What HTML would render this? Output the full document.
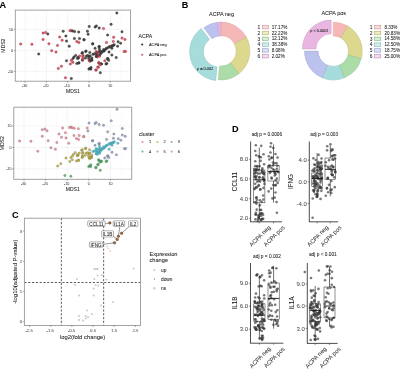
<!DOCTYPE html>
<html><head><meta charset="utf-8"><style>
html,body{margin:0;padding:0;background:#fff;overflow:hidden;}
svg{display:block;font-family:"Liberation Sans", sans-serif;filter:blur(0.3px);}
text{stroke:currentColor;stroke-width:0.05px;paint-order:stroke;}
</style></head><body>
<svg width="400" height="369" viewBox="0 0 400 369">
<rect width="400" height="369" fill="#fff"/>
<text x="-0.50" y="7.70" font-size="9.1" text-anchor="start" fill="#000" color="#000" font-weight="bold">A</text>
<text x="181.70" y="8.10" font-size="9.1" text-anchor="start" fill="#000" color="#000" font-weight="bold">B</text>
<text x="12.00" y="217.50" font-size="9.1" text-anchor="start" fill="#000" color="#000" font-weight="bold">C</text>
<text x="232.00" y="131.50" font-size="9.1" text-anchor="start" fill="#000" color="#000" font-weight="bold">D</text>
<rect x="15.3" y="10.1" width="115.3" height="71.10000000000001" fill="#fff"/>
<line x1="35.75" y1="10.10" x2="35.75" y2="81.20" stroke="#f5f5f5" stroke-width="0.3"/>
<line x1="57.05" y1="10.10" x2="57.05" y2="81.20" stroke="#f5f5f5" stroke-width="0.3"/>
<line x1="78.35" y1="10.10" x2="78.35" y2="81.20" stroke="#f5f5f5" stroke-width="0.3"/>
<line x1="99.65" y1="10.10" x2="99.65" y2="81.20" stroke="#f5f5f5" stroke-width="0.3"/>
<line x1="120.95" y1="10.10" x2="120.95" y2="81.20" stroke="#f5f5f5" stroke-width="0.3"/>
<line x1="15.30" y1="18.90" x2="130.60" y2="18.90" stroke="#f5f5f5" stroke-width="0.3"/>
<line x1="15.30" y1="39.90" x2="130.60" y2="39.90" stroke="#f5f5f5" stroke-width="0.3"/>
<line x1="15.30" y1="60.90" x2="130.60" y2="60.90" stroke="#f5f5f5" stroke-width="0.3"/>
<line x1="25.10" y1="10.10" x2="25.10" y2="81.20" stroke="#ebebeb" stroke-width="0.5"/>
<line x1="46.40" y1="10.10" x2="46.40" y2="81.20" stroke="#ebebeb" stroke-width="0.5"/>
<line x1="67.70" y1="10.10" x2="67.70" y2="81.20" stroke="#ebebeb" stroke-width="0.5"/>
<line x1="89.00" y1="10.10" x2="89.00" y2="81.20" stroke="#ebebeb" stroke-width="0.5"/>
<line x1="110.30" y1="10.10" x2="110.30" y2="81.20" stroke="#ebebeb" stroke-width="0.5"/>
<line x1="15.30" y1="29.40" x2="130.60" y2="29.40" stroke="#ebebeb" stroke-width="0.5"/>
<line x1="15.30" y1="50.40" x2="130.60" y2="50.40" stroke="#ebebeb" stroke-width="0.5"/>
<line x1="15.30" y1="71.40" x2="130.60" y2="71.40" stroke="#ebebeb" stroke-width="0.5"/>
<circle cx="20.70" cy="44.10" r="1.25" fill="#dc4858" fill-opacity="0.88" stroke="#7a2a35" stroke-width="0.38" stroke-opacity="0.75"/>
<circle cx="31.90" cy="44.30" r="1.25" fill="#dc4858" fill-opacity="0.88" stroke="#7a2a35" stroke-width="0.38" stroke-opacity="0.75"/>
<circle cx="43.10" cy="33.10" r="1.25" fill="#dc4858" fill-opacity="0.88" stroke="#7a2a35" stroke-width="0.38" stroke-opacity="0.75"/>
<circle cx="45.70" cy="32.40" r="1.25" fill="#dc4858" fill-opacity="0.88" stroke="#7a2a35" stroke-width="0.38" stroke-opacity="0.75"/>
<circle cx="47.80" cy="34.00" r="1.25" fill="#3c3c3c" fill-opacity="0.88" stroke="#262626" stroke-width="0.38" stroke-opacity="0.75"/>
<circle cx="43.10" cy="39.40" r="1.25" fill="#dc4858" fill-opacity="0.88" stroke="#7a2a35" stroke-width="0.38" stroke-opacity="0.75"/>
<circle cx="48.90" cy="43.80" r="1.25" fill="#dc4858" fill-opacity="0.88" stroke="#7a2a35" stroke-width="0.38" stroke-opacity="0.75"/>
<circle cx="63.20" cy="31.30" r="1.25" fill="#3c3c3c" fill-opacity="0.88" stroke="#262626" stroke-width="0.38" stroke-opacity="0.75"/>
<circle cx="70.00" cy="30.80" r="1.25" fill="#dc4858" fill-opacity="0.88" stroke="#7a2a35" stroke-width="0.38" stroke-opacity="0.75"/>
<circle cx="71.30" cy="30.40" r="1.25" fill="#dc4858" fill-opacity="0.88" stroke="#7a2a35" stroke-width="0.38" stroke-opacity="0.75"/>
<circle cx="72.60" cy="31.00" r="1.25" fill="#3c3c3c" fill-opacity="0.88" stroke="#262626" stroke-width="0.38" stroke-opacity="0.75"/>
<circle cx="74.60" cy="31.60" r="1.25" fill="#3c3c3c" fill-opacity="0.88" stroke="#262626" stroke-width="0.38" stroke-opacity="0.75"/>
<circle cx="78.70" cy="32.10" r="1.25" fill="#3c3c3c" fill-opacity="0.88" stroke="#262626" stroke-width="0.38" stroke-opacity="0.75"/>
<circle cx="89.20" cy="26.40" r="1.25" fill="#3c3c3c" fill-opacity="0.88" stroke="#262626" stroke-width="0.38" stroke-opacity="0.75"/>
<circle cx="87.40" cy="31.30" r="1.25" fill="#3c3c3c" fill-opacity="0.88" stroke="#262626" stroke-width="0.38" stroke-opacity="0.75"/>
<circle cx="88.10" cy="34.20" r="1.25" fill="#3c3c3c" fill-opacity="0.88" stroke="#262626" stroke-width="0.38" stroke-opacity="0.75"/>
<circle cx="65.90" cy="36.00" r="1.25" fill="#3c3c3c" fill-opacity="0.88" stroke="#262626" stroke-width="0.38" stroke-opacity="0.75"/>
<circle cx="59.60" cy="37.10" r="1.25" fill="#dc4858" fill-opacity="0.88" stroke="#7a2a35" stroke-width="0.38" stroke-opacity="0.75"/>
<circle cx="62.10" cy="40.30" r="1.25" fill="#dc4858" fill-opacity="0.88" stroke="#7a2a35" stroke-width="0.38" stroke-opacity="0.75"/>
<circle cx="66.50" cy="41.10" r="1.25" fill="#3c3c3c" fill-opacity="0.88" stroke="#262626" stroke-width="0.38" stroke-opacity="0.75"/>
<circle cx="74.40" cy="38.60" r="1.25" fill="#3c3c3c" fill-opacity="0.88" stroke="#262626" stroke-width="0.38" stroke-opacity="0.75"/>
<circle cx="79.50" cy="38.60" r="1.25" fill="#3c3c3c" fill-opacity="0.88" stroke="#262626" stroke-width="0.38" stroke-opacity="0.75"/>
<circle cx="76.80" cy="41.60" r="1.25" fill="#dc4858" fill-opacity="0.88" stroke="#7a2a35" stroke-width="0.38" stroke-opacity="0.75"/>
<circle cx="78.90" cy="42.50" r="1.25" fill="#dc4858" fill-opacity="0.88" stroke="#7a2a35" stroke-width="0.38" stroke-opacity="0.75"/>
<circle cx="84.10" cy="39.70" r="1.25" fill="#3c3c3c" fill-opacity="0.88" stroke="#262626" stroke-width="0.38" stroke-opacity="0.75"/>
<circle cx="69.20" cy="46.20" r="1.25" fill="#3c3c3c" fill-opacity="0.88" stroke="#262626" stroke-width="0.38" stroke-opacity="0.75"/>
<circle cx="57.50" cy="45.40" r="1.25" fill="#dc4858" fill-opacity="0.88" stroke="#7a2a35" stroke-width="0.38" stroke-opacity="0.75"/>
<circle cx="92.80" cy="43.80" r="1.25" fill="#3c3c3c" fill-opacity="0.88" stroke="#262626" stroke-width="0.38" stroke-opacity="0.75"/>
<circle cx="116.80" cy="12.90" r="1.25" fill="#3c3c3c" fill-opacity="0.88" stroke="#262626" stroke-width="0.38" stroke-opacity="0.75"/>
<circle cx="111.10" cy="24.30" r="1.25" fill="#3c3c3c" fill-opacity="0.88" stroke="#262626" stroke-width="0.38" stroke-opacity="0.75"/>
<circle cx="95.10" cy="27.00" r="1.25" fill="#3c3c3c" fill-opacity="0.88" stroke="#262626" stroke-width="0.38" stroke-opacity="0.75"/>
<circle cx="96.40" cy="25.90" r="1.25" fill="#3c3c3c" fill-opacity="0.88" stroke="#262626" stroke-width="0.38" stroke-opacity="0.75"/>
<circle cx="99.20" cy="28.00" r="1.25" fill="#3c3c3c" fill-opacity="0.88" stroke="#262626" stroke-width="0.38" stroke-opacity="0.75"/>
<circle cx="103.50" cy="28.60" r="1.25" fill="#dc4858" fill-opacity="0.88" stroke="#7a2a35" stroke-width="0.38" stroke-opacity="0.75"/>
<circle cx="122.00" cy="31.80" r="1.25" fill="#3c3c3c" fill-opacity="0.88" stroke="#262626" stroke-width="0.38" stroke-opacity="0.75"/>
<circle cx="107.60" cy="35.10" r="1.25" fill="#3c3c3c" fill-opacity="0.88" stroke="#262626" stroke-width="0.38" stroke-opacity="0.75"/>
<circle cx="113.70" cy="37.30" r="1.25" fill="#dc4858" fill-opacity="0.88" stroke="#7a2a35" stroke-width="0.38" stroke-opacity="0.75"/>
<circle cx="122.00" cy="38.10" r="1.25" fill="#dc4858" fill-opacity="0.88" stroke="#7a2a35" stroke-width="0.38" stroke-opacity="0.75"/>
<circle cx="124.90" cy="39.40" r="1.25" fill="#dc4858" fill-opacity="0.88" stroke="#7a2a35" stroke-width="0.38" stroke-opacity="0.75"/>
<circle cx="113.30" cy="41.40" r="1.25" fill="#dc4858" fill-opacity="0.88" stroke="#7a2a35" stroke-width="0.38" stroke-opacity="0.75"/>
<circle cx="106.50" cy="42.50" r="1.25" fill="#dc4858" fill-opacity="0.88" stroke="#7a2a35" stroke-width="0.38" stroke-opacity="0.75"/>
<circle cx="118.10" cy="41.80" r="1.25" fill="#3c3c3c" fill-opacity="0.88" stroke="#262626" stroke-width="0.38" stroke-opacity="0.75"/>
<circle cx="120.60" cy="43.20" r="1.25" fill="#3c3c3c" fill-opacity="0.88" stroke="#262626" stroke-width="0.38" stroke-opacity="0.75"/>
<circle cx="99.40" cy="46.50" r="1.25" fill="#3c3c3c" fill-opacity="0.88" stroke="#262626" stroke-width="0.38" stroke-opacity="0.75"/>
<circle cx="109.70" cy="46.20" r="1.25" fill="#dc4858" fill-opacity="0.88" stroke="#7a2a35" stroke-width="0.38" stroke-opacity="0.75"/>
<circle cx="111.90" cy="45.90" r="1.25" fill="#3c3c3c" fill-opacity="0.88" stroke="#262626" stroke-width="0.38" stroke-opacity="0.75"/>
<circle cx="113.30" cy="45.40" r="1.25" fill="#3c3c3c" fill-opacity="0.88" stroke="#262626" stroke-width="0.38" stroke-opacity="0.75"/>
<circle cx="117.60" cy="46.20" r="1.25" fill="#3c3c3c" fill-opacity="0.88" stroke="#262626" stroke-width="0.38" stroke-opacity="0.75"/>
<circle cx="38.70" cy="54.00" r="1.25" fill="#3c3c3c" fill-opacity="0.88" stroke="#262626" stroke-width="0.38" stroke-opacity="0.75"/>
<circle cx="51.70" cy="50.70" r="1.25" fill="#dc4858" fill-opacity="0.88" stroke="#7a2a35" stroke-width="0.38" stroke-opacity="0.75"/>
<circle cx="56.00" cy="52.10" r="1.25" fill="#dc4858" fill-opacity="0.88" stroke="#7a2a35" stroke-width="0.38" stroke-opacity="0.75"/>
<circle cx="66.50" cy="60.80" r="1.25" fill="#3c3c3c" fill-opacity="0.88" stroke="#262626" stroke-width="0.38" stroke-opacity="0.75"/>
<circle cx="70.30" cy="64.00" r="1.25" fill="#dc4858" fill-opacity="0.88" stroke="#7a2a35" stroke-width="0.38" stroke-opacity="0.75"/>
<circle cx="71.30" cy="60.30" r="1.25" fill="#dc4858" fill-opacity="0.88" stroke="#7a2a35" stroke-width="0.38" stroke-opacity="0.75"/>
<circle cx="73.00" cy="58.60" r="1.25" fill="#3c3c3c" fill-opacity="0.88" stroke="#262626" stroke-width="0.38" stroke-opacity="0.75"/>
<circle cx="74.00" cy="57.00" r="1.25" fill="#3c3c3c" fill-opacity="0.88" stroke="#262626" stroke-width="0.38" stroke-opacity="0.75"/>
<circle cx="75.70" cy="55.40" r="1.25" fill="#3c3c3c" fill-opacity="0.88" stroke="#262626" stroke-width="0.38" stroke-opacity="0.75"/>
<circle cx="76.80" cy="63.50" r="1.25" fill="#3c3c3c" fill-opacity="0.88" stroke="#262626" stroke-width="0.38" stroke-opacity="0.75"/>
<circle cx="78.90" cy="63.00" r="1.25" fill="#3c3c3c" fill-opacity="0.88" stroke="#262626" stroke-width="0.38" stroke-opacity="0.75"/>
<circle cx="78.40" cy="58.10" r="1.25" fill="#3c3c3c" fill-opacity="0.88" stroke="#262626" stroke-width="0.38" stroke-opacity="0.75"/>
<circle cx="82.00" cy="53.20" r="1.25" fill="#3c3c3c" fill-opacity="0.88" stroke="#262626" stroke-width="0.38" stroke-opacity="0.75"/>
<circle cx="83.10" cy="55.40" r="1.25" fill="#dc4858" fill-opacity="0.88" stroke="#7a2a35" stroke-width="0.38" stroke-opacity="0.75"/>
<circle cx="82.70" cy="58.60" r="1.25" fill="#dc4858" fill-opacity="0.88" stroke="#7a2a35" stroke-width="0.38" stroke-opacity="0.75"/>
<circle cx="82.40" cy="60.30" r="1.25" fill="#3c3c3c" fill-opacity="0.88" stroke="#262626" stroke-width="0.38" stroke-opacity="0.75"/>
<circle cx="85.70" cy="51.60" r="1.25" fill="#3c3c3c" fill-opacity="0.88" stroke="#262626" stroke-width="0.38" stroke-opacity="0.75"/>
<circle cx="86.50" cy="55.90" r="1.25" fill="#3c3c3c" fill-opacity="0.88" stroke="#262626" stroke-width="0.38" stroke-opacity="0.75"/>
<circle cx="85.40" cy="58.10" r="1.25" fill="#3c3c3c" fill-opacity="0.88" stroke="#262626" stroke-width="0.38" stroke-opacity="0.75"/>
<circle cx="89.20" cy="56.50" r="1.25" fill="#3c3c3c" fill-opacity="0.88" stroke="#262626" stroke-width="0.38" stroke-opacity="0.75"/>
<circle cx="89.20" cy="60.30" r="1.25" fill="#dc4858" fill-opacity="0.88" stroke="#7a2a35" stroke-width="0.38" stroke-opacity="0.75"/>
<circle cx="91.90" cy="58.10" r="1.25" fill="#3c3c3c" fill-opacity="0.88" stroke="#262626" stroke-width="0.38" stroke-opacity="0.75"/>
<circle cx="93.00" cy="54.30" r="1.25" fill="#3c3c3c" fill-opacity="0.88" stroke="#262626" stroke-width="0.38" stroke-opacity="0.75"/>
<circle cx="91.90" cy="60.30" r="1.25" fill="#3c3c3c" fill-opacity="0.88" stroke="#262626" stroke-width="0.38" stroke-opacity="0.75"/>
<circle cx="58.30" cy="68.40" r="1.25" fill="#dc4858" fill-opacity="0.88" stroke="#7a2a35" stroke-width="0.38" stroke-opacity="0.75"/>
<circle cx="61.40" cy="66.20" r="1.25" fill="#dc4858" fill-opacity="0.88" stroke="#7a2a35" stroke-width="0.38" stroke-opacity="0.75"/>
<circle cx="88.90" cy="69.10" r="1.25" fill="#3c3c3c" fill-opacity="0.88" stroke="#262626" stroke-width="0.38" stroke-opacity="0.75"/>
<circle cx="90.90" cy="69.10" r="1.25" fill="#3c3c3c" fill-opacity="0.88" stroke="#262626" stroke-width="0.38" stroke-opacity="0.75"/>
<circle cx="89.90" cy="68.60" r="1.25" fill="#3c3c3c" fill-opacity="0.88" stroke="#262626" stroke-width="0.38" stroke-opacity="0.75"/>
<circle cx="65.40" cy="77.80" r="1.25" fill="#dc4858" fill-opacity="0.88" stroke="#7a2a35" stroke-width="0.38" stroke-opacity="0.75"/>
<circle cx="71.30" cy="78.50" r="1.25" fill="#3c3c3c" fill-opacity="0.88" stroke="#262626" stroke-width="0.38" stroke-opacity="0.75"/>
<circle cx="95.10" cy="48.30" r="1.25" fill="#3c3c3c" fill-opacity="0.88" stroke="#262626" stroke-width="0.38" stroke-opacity="0.75"/>
<circle cx="98.90" cy="46.70" r="1.25" fill="#3c3c3c" fill-opacity="0.88" stroke="#262626" stroke-width="0.38" stroke-opacity="0.75"/>
<circle cx="99.40" cy="48.90" r="1.25" fill="#3c3c3c" fill-opacity="0.88" stroke="#262626" stroke-width="0.38" stroke-opacity="0.75"/>
<circle cx="96.20" cy="51.60" r="1.25" fill="#dc4858" fill-opacity="0.88" stroke="#7a2a35" stroke-width="0.38" stroke-opacity="0.75"/>
<circle cx="97.80" cy="52.10" r="1.25" fill="#dc4858" fill-opacity="0.88" stroke="#7a2a35" stroke-width="0.38" stroke-opacity="0.75"/>
<circle cx="99.40" cy="51.60" r="1.25" fill="#3c3c3c" fill-opacity="0.88" stroke="#262626" stroke-width="0.38" stroke-opacity="0.75"/>
<circle cx="94.50" cy="53.80" r="1.25" fill="#3c3c3c" fill-opacity="0.88" stroke="#262626" stroke-width="0.38" stroke-opacity="0.75"/>
<circle cx="97.30" cy="54.30" r="1.25" fill="#dc4858" fill-opacity="0.88" stroke="#7a2a35" stroke-width="0.38" stroke-opacity="0.75"/>
<circle cx="98.90" cy="54.80" r="1.25" fill="#dc4858" fill-opacity="0.88" stroke="#7a2a35" stroke-width="0.38" stroke-opacity="0.75"/>
<circle cx="102.70" cy="51.60" r="1.25" fill="#3c3c3c" fill-opacity="0.88" stroke="#262626" stroke-width="0.38" stroke-opacity="0.75"/>
<circle cx="104.30" cy="50.50" r="1.25" fill="#3c3c3c" fill-opacity="0.88" stroke="#262626" stroke-width="0.38" stroke-opacity="0.75"/>
<circle cx="105.90" cy="48.90" r="1.25" fill="#3c3c3c" fill-opacity="0.88" stroke="#262626" stroke-width="0.38" stroke-opacity="0.75"/>
<circle cx="111.90" cy="48.30" r="1.25" fill="#3c3c3c" fill-opacity="0.88" stroke="#262626" stroke-width="0.38" stroke-opacity="0.75"/>
<circle cx="109.00" cy="52.10" r="1.25" fill="#3c3c3c" fill-opacity="0.88" stroke="#262626" stroke-width="0.38" stroke-opacity="0.75"/>
<circle cx="111.90" cy="55.10" r="1.25" fill="#3c3c3c" fill-opacity="0.88" stroke="#262626" stroke-width="0.38" stroke-opacity="0.75"/>
<circle cx="116.20" cy="57.60" r="1.25" fill="#3c3c3c" fill-opacity="0.88" stroke="#262626" stroke-width="0.38" stroke-opacity="0.75"/>
<circle cx="125.40" cy="51.40" r="1.25" fill="#dc4858" fill-opacity="0.88" stroke="#7a2a35" stroke-width="0.38" stroke-opacity="0.75"/>
<circle cx="124.10" cy="51.60" r="1.25" fill="#dc4858" fill-opacity="0.88" stroke="#7a2a35" stroke-width="0.38" stroke-opacity="0.75"/>
<circle cx="96.20" cy="56.50" r="1.25" fill="#3c3c3c" fill-opacity="0.88" stroke="#262626" stroke-width="0.38" stroke-opacity="0.75"/>
<circle cx="97.30" cy="57.00" r="1.25" fill="#dc4858" fill-opacity="0.88" stroke="#7a2a35" stroke-width="0.38" stroke-opacity="0.75"/>
<circle cx="107.90" cy="58.60" r="1.25" fill="#3c3c3c" fill-opacity="0.88" stroke="#262626" stroke-width="0.38" stroke-opacity="0.75"/>
<circle cx="108.60" cy="60.30" r="1.25" fill="#3c3c3c" fill-opacity="0.88" stroke="#262626" stroke-width="0.38" stroke-opacity="0.75"/>
<circle cx="104.80" cy="60.80" r="1.25" fill="#dc4858" fill-opacity="0.88" stroke="#7a2a35" stroke-width="0.38" stroke-opacity="0.75"/>
<circle cx="106.80" cy="63.50" r="1.25" fill="#3c3c3c" fill-opacity="0.88" stroke="#262626" stroke-width="0.38" stroke-opacity="0.75"/>
<circle cx="98.90" cy="63.00" r="1.25" fill="#3c3c3c" fill-opacity="0.88" stroke="#262626" stroke-width="0.38" stroke-opacity="0.75"/>
<circle cx="101.00" cy="63.70" r="1.25" fill="#3c3c3c" fill-opacity="0.88" stroke="#262626" stroke-width="0.38" stroke-opacity="0.75"/>
<circle cx="97.80" cy="67.00" r="1.25" fill="#dc4858" fill-opacity="0.88" stroke="#7a2a35" stroke-width="0.38" stroke-opacity="0.75"/>
<circle cx="96.20" cy="70.00" r="1.25" fill="#dc4858" fill-opacity="0.88" stroke="#7a2a35" stroke-width="0.38" stroke-opacity="0.75"/>
<circle cx="100.30" cy="72.70" r="1.25" fill="#3c3c3c" fill-opacity="0.88" stroke="#262626" stroke-width="0.38" stroke-opacity="0.75"/>
<circle cx="95.80" cy="69.90" r="1.25" fill="#dc4858" fill-opacity="0.88" stroke="#7a2a35" stroke-width="0.38" stroke-opacity="0.75"/>
<circle cx="72.80" cy="62.30" r="1.25" fill="#dc4858" fill-opacity="0.88" stroke="#7a2a35" stroke-width="0.38" stroke-opacity="0.75"/>
<circle cx="83.90" cy="39.80" r="1.25" fill="#3c3c3c" fill-opacity="0.88" stroke="#262626" stroke-width="0.38" stroke-opacity="0.75"/>
<circle cx="92.60" cy="43.90" r="1.25" fill="#3c3c3c" fill-opacity="0.88" stroke="#262626" stroke-width="0.38" stroke-opacity="0.75"/>
<circle cx="104.00" cy="51.00" r="1.25" fill="#3c3c3c" fill-opacity="0.88" stroke="#262626" stroke-width="0.38" stroke-opacity="0.75"/>
<circle cx="86.10" cy="51.00" r="1.25" fill="#3c3c3c" fill-opacity="0.88" stroke="#262626" stroke-width="0.38" stroke-opacity="0.75"/>
<circle cx="82.50" cy="52.60" r="1.25" fill="#3c3c3c" fill-opacity="0.88" stroke="#262626" stroke-width="0.38" stroke-opacity="0.75"/>
<circle cx="89.80" cy="52.60" r="1.25" fill="#3c3c3c" fill-opacity="0.88" stroke="#262626" stroke-width="0.38" stroke-opacity="0.75"/>
<circle cx="100.40" cy="53.00" r="1.25" fill="#dc4858" fill-opacity="0.88" stroke="#7a2a35" stroke-width="0.38" stroke-opacity="0.75"/>
<circle cx="99.50" cy="56.30" r="1.25" fill="#dc4858" fill-opacity="0.88" stroke="#7a2a35" stroke-width="0.38" stroke-opacity="0.75"/>
<circle cx="82.90" cy="56.30" r="1.25" fill="#dc4858" fill-opacity="0.88" stroke="#7a2a35" stroke-width="0.38" stroke-opacity="0.75"/>
<circle cx="79.60" cy="55.90" r="1.25" fill="#dc4858" fill-opacity="0.88" stroke="#7a2a35" stroke-width="0.38" stroke-opacity="0.75"/>
<circle cx="87.80" cy="55.50" r="1.25" fill="#3c3c3c" fill-opacity="0.88" stroke="#262626" stroke-width="0.38" stroke-opacity="0.75"/>
<circle cx="90.20" cy="55.90" r="1.25" fill="#3c3c3c" fill-opacity="0.88" stroke="#262626" stroke-width="0.38" stroke-opacity="0.75"/>
<circle cx="88.60" cy="58.30" r="1.25" fill="#3c3c3c" fill-opacity="0.88" stroke="#262626" stroke-width="0.38" stroke-opacity="0.75"/>
<circle cx="82.90" cy="59.50" r="1.25" fill="#dc4858" fill-opacity="0.88" stroke="#7a2a35" stroke-width="0.38" stroke-opacity="0.75"/>
<circle cx="91.40" cy="59.50" r="1.25" fill="#3c3c3c" fill-opacity="0.88" stroke="#262626" stroke-width="0.38" stroke-opacity="0.75"/>
<circle cx="78.00" cy="57.50" r="1.25" fill="#3c3c3c" fill-opacity="0.88" stroke="#262626" stroke-width="0.38" stroke-opacity="0.75"/>
<circle cx="78.80" cy="62.80" r="1.25" fill="#3c3c3c" fill-opacity="0.88" stroke="#262626" stroke-width="0.38" stroke-opacity="0.75"/>
<circle cx="89.80" cy="61.20" r="1.25" fill="#dc4858" fill-opacity="0.88" stroke="#7a2a35" stroke-width="0.38" stroke-opacity="0.75"/>
<circle cx="98.70" cy="62.40" r="1.25" fill="#dc4858" fill-opacity="0.88" stroke="#7a2a35" stroke-width="0.38" stroke-opacity="0.75"/>
<circle cx="101.60" cy="64.00" r="1.25" fill="#3c3c3c" fill-opacity="0.88" stroke="#262626" stroke-width="0.38" stroke-opacity="0.75"/>
<circle cx="100.00" cy="64.80" r="1.25" fill="#dc4858" fill-opacity="0.88" stroke="#7a2a35" stroke-width="0.38" stroke-opacity="0.75"/>
<circle cx="107.30" cy="58.70" r="1.25" fill="#3c3c3c" fill-opacity="0.88" stroke="#262626" stroke-width="0.38" stroke-opacity="0.75"/>
<circle cx="106.00" cy="64.00" r="1.25" fill="#3c3c3c" fill-opacity="0.88" stroke="#262626" stroke-width="0.38" stroke-opacity="0.75"/>
<circle cx="98.30" cy="67.30" r="1.25" fill="#dc4858" fill-opacity="0.88" stroke="#7a2a35" stroke-width="0.38" stroke-opacity="0.75"/>
<circle cx="91.00" cy="67.40" r="1.25" fill="#3c3c3c" fill-opacity="0.88" stroke="#262626" stroke-width="0.38" stroke-opacity="0.75"/>
<circle cx="90.70" cy="60.60" r="1.25" fill="#3c3c3c" fill-opacity="0.88" stroke="#262626" stroke-width="0.38" stroke-opacity="0.75"/>
<circle cx="77.50" cy="58.40" r="1.25" fill="#3c3c3c" fill-opacity="0.88" stroke="#262626" stroke-width="0.38" stroke-opacity="0.75"/>
<circle cx="96.20" cy="53.40" r="1.25" fill="#3c3c3c" fill-opacity="0.88" stroke="#262626" stroke-width="0.38" stroke-opacity="0.75"/>
<circle cx="100.60" cy="51.20" r="1.25" fill="#3c3c3c" fill-opacity="0.88" stroke="#262626" stroke-width="0.38" stroke-opacity="0.75"/>
<circle cx="103.60" cy="49.60" r="1.25" fill="#3c3c3c" fill-opacity="0.88" stroke="#262626" stroke-width="0.38" stroke-opacity="0.75"/>
<circle cx="106.60" cy="48.20" r="1.25" fill="#3c3c3c" fill-opacity="0.88" stroke="#262626" stroke-width="0.38" stroke-opacity="0.75"/>
<circle cx="108.20" cy="47.60" r="1.25" fill="#3c3c3c" fill-opacity="0.88" stroke="#262626" stroke-width="0.38" stroke-opacity="0.75"/>
<circle cx="110.20" cy="46.90" r="1.25" fill="#3c3c3c" fill-opacity="0.88" stroke="#262626" stroke-width="0.38" stroke-opacity="0.75"/>
<circle cx="112.30" cy="45.90" r="1.25" fill="#3c3c3c" fill-opacity="0.88" stroke="#262626" stroke-width="0.38" stroke-opacity="0.75"/>
<circle cx="114.20" cy="44.80" r="1.25" fill="#3c3c3c" fill-opacity="0.88" stroke="#262626" stroke-width="0.38" stroke-opacity="0.75"/>
<circle cx="96.60" cy="55.90" r="1.25" fill="#3c3c3c" fill-opacity="0.88" stroke="#262626" stroke-width="0.38" stroke-opacity="0.75"/>
<circle cx="100.10" cy="54.60" r="1.25" fill="#3c3c3c" fill-opacity="0.88" stroke="#262626" stroke-width="0.38" stroke-opacity="0.75"/>
<circle cx="101.50" cy="52.80" r="1.25" fill="#3c3c3c" fill-opacity="0.88" stroke="#262626" stroke-width="0.38" stroke-opacity="0.75"/>
<rect x="15.3" y="10.1" width="115.3" height="71.10000000000001" fill="none" stroke="#999999" stroke-width="0.9"/>
<line x1="25.10" y1="81.20" x2="25.10" y2="82.70" stroke="#555" stroke-width="0.5"/>
<text transform="translate(24.60 85.80) rotate(0)" x="0" y="1.30" font-size="3.6" text-anchor="middle" fill="#4d4d4d" color="#4d4d4d" font-weight="normal">-30</text>
<line x1="46.40" y1="81.20" x2="46.40" y2="82.70" stroke="#555" stroke-width="0.5"/>
<text transform="translate(45.90 85.80) rotate(0)" x="0" y="1.30" font-size="3.6" text-anchor="middle" fill="#4d4d4d" color="#4d4d4d" font-weight="normal">-20</text>
<line x1="67.70" y1="81.20" x2="67.70" y2="82.70" stroke="#555" stroke-width="0.5"/>
<text transform="translate(67.20 85.80) rotate(0)" x="0" y="1.30" font-size="3.6" text-anchor="middle" fill="#4d4d4d" color="#4d4d4d" font-weight="normal">-10</text>
<line x1="89.00" y1="81.20" x2="89.00" y2="82.70" stroke="#555" stroke-width="0.5"/>
<text transform="translate(89.00 85.80) rotate(0)" x="0" y="1.30" font-size="3.6" text-anchor="middle" fill="#4d4d4d" color="#4d4d4d" font-weight="normal">0</text>
<line x1="110.30" y1="81.20" x2="110.30" y2="82.70" stroke="#555" stroke-width="0.5"/>
<text transform="translate(110.30 85.80) rotate(0)" x="0" y="1.30" font-size="3.6" text-anchor="middle" fill="#4d4d4d" color="#4d4d4d" font-weight="normal">10</text>
<line x1="13.80" y1="29.40" x2="15.30" y2="29.40" stroke="#555" stroke-width="0.5"/>
<text transform="translate(13.10 29.40) rotate(0)" x="0" y="1.30" font-size="3.6" text-anchor="end" fill="#4d4d4d" color="#4d4d4d" font-weight="normal">10</text>
<line x1="13.80" y1="50.40" x2="15.30" y2="50.40" stroke="#555" stroke-width="0.5"/>
<text transform="translate(13.10 50.40) rotate(0)" x="0" y="1.30" font-size="3.6" text-anchor="end" fill="#4d4d4d" color="#4d4d4d" font-weight="normal">0</text>
<line x1="13.80" y1="71.40" x2="15.30" y2="71.40" stroke="#555" stroke-width="0.5"/>
<text transform="translate(13.10 71.40) rotate(0)" x="0" y="1.30" font-size="3.6" text-anchor="end" fill="#4d4d4d" color="#4d4d4d" font-weight="normal">-10</text>
<text transform="translate(72.95 91.10) rotate(0)" x="0" y="1.80" font-size="5.0" text-anchor="middle" fill="#1a1a1a" color="#1a1a1a" font-weight="normal">MDS1</text>
<text transform="translate(3.40 45.65) rotate(-90)" x="0" y="1.84" font-size="5.1" text-anchor="middle" fill="#1a1a1a" color="#1a1a1a" font-weight="normal">MDS2</text>
<text transform="translate(138.50 36.30) rotate(0)" x="0" y="1.87" font-size="5.2" text-anchor="start" fill="#1a1a1a" color="#1a1a1a" font-weight="normal">ACPA</text>
<circle cx="142.20" cy="44.50" r="1.05" fill="#333"/>
<text transform="translate(149.00 44.50) rotate(0)" x="0" y="1.20" font-size="3.9" text-anchor="start" fill="#1a1a1a" color="#1a1a1a" font-weight="normal">ACPA neg</text>
<circle cx="142.20" cy="54.80" r="1.05" fill="#d06070"/>
<text transform="translate(149.00 54.80) rotate(0)" x="0" y="1.20" font-size="3.9" text-anchor="start" fill="#1a1a1a" color="#1a1a1a" font-weight="normal">ACPA pos</text>
<rect x="13.8" y="107.2" width="117.89999999999999" height="72.10000000000001" fill="#fff"/>
<line x1="34.80" y1="107.20" x2="34.80" y2="179.30" stroke="#f5f5f5" stroke-width="0.3"/>
<line x1="56.40" y1="107.20" x2="56.40" y2="179.30" stroke="#f5f5f5" stroke-width="0.3"/>
<line x1="78.00" y1="107.20" x2="78.00" y2="179.30" stroke="#f5f5f5" stroke-width="0.3"/>
<line x1="99.60" y1="107.20" x2="99.60" y2="179.30" stroke="#f5f5f5" stroke-width="0.3"/>
<line x1="121.20" y1="107.20" x2="121.20" y2="179.30" stroke="#f5f5f5" stroke-width="0.3"/>
<line x1="13.80" y1="115.33" x2="131.70" y2="115.33" stroke="#f5f5f5" stroke-width="0.3"/>
<line x1="13.80" y1="136.78" x2="131.70" y2="136.78" stroke="#f5f5f5" stroke-width="0.3"/>
<line x1="13.80" y1="158.22" x2="131.70" y2="158.22" stroke="#f5f5f5" stroke-width="0.3"/>
<line x1="24.00" y1="107.20" x2="24.00" y2="179.30" stroke="#ebebeb" stroke-width="0.5"/>
<line x1="45.60" y1="107.20" x2="45.60" y2="179.30" stroke="#ebebeb" stroke-width="0.5"/>
<line x1="67.20" y1="107.20" x2="67.20" y2="179.30" stroke="#ebebeb" stroke-width="0.5"/>
<line x1="88.80" y1="107.20" x2="88.80" y2="179.30" stroke="#ebebeb" stroke-width="0.5"/>
<line x1="110.40" y1="107.20" x2="110.40" y2="179.30" stroke="#ebebeb" stroke-width="0.5"/>
<line x1="13.80" y1="126.05" x2="131.70" y2="126.05" stroke="#ebebeb" stroke-width="0.5"/>
<line x1="13.80" y1="147.50" x2="131.70" y2="147.50" stroke="#ebebeb" stroke-width="0.5"/>
<line x1="13.80" y1="168.95" x2="131.70" y2="168.95" stroke="#ebebeb" stroke-width="0.5"/>
<circle cx="19.54" cy="141.06" r="1.25" fill="#dc7c9c" fill-opacity="0.8" stroke="#555" stroke-width="0.4" stroke-opacity="0.45"/>
<circle cx="30.90" cy="141.27" r="1.25" fill="#dc7c9c" fill-opacity="0.8" stroke="#555" stroke-width="0.4" stroke-opacity="0.45"/>
<circle cx="42.25" cy="129.83" r="1.25" fill="#dc7c9c" fill-opacity="0.8" stroke="#555" stroke-width="0.4" stroke-opacity="0.45"/>
<circle cx="44.89" cy="129.11" r="1.25" fill="#dc7c9c" fill-opacity="0.8" stroke="#555" stroke-width="0.4" stroke-opacity="0.45"/>
<circle cx="47.02" cy="130.75" r="1.25" fill="#dc7c9c" fill-opacity="0.8" stroke="#555" stroke-width="0.4" stroke-opacity="0.45"/>
<circle cx="42.25" cy="136.26" r="1.25" fill="#dc7c9c" fill-opacity="0.8" stroke="#555" stroke-width="0.4" stroke-opacity="0.45"/>
<circle cx="48.14" cy="140.76" r="1.25" fill="#dc7c9c" fill-opacity="0.8" stroke="#555" stroke-width="0.4" stroke-opacity="0.45"/>
<circle cx="62.64" cy="127.99" r="1.25" fill="#e5808c" fill-opacity="0.8" stroke="#555" stroke-width="0.4" stroke-opacity="0.45"/>
<circle cx="69.53" cy="127.48" r="1.25" fill="#e5808c" fill-opacity="0.8" stroke="#555" stroke-width="0.4" stroke-opacity="0.45"/>
<circle cx="70.85" cy="127.07" r="1.25" fill="#e5808c" fill-opacity="0.8" stroke="#555" stroke-width="0.4" stroke-opacity="0.45"/>
<circle cx="72.17" cy="127.68" r="1.25" fill="#e5808c" fill-opacity="0.8" stroke="#555" stroke-width="0.4" stroke-opacity="0.45"/>
<circle cx="74.20" cy="128.30" r="1.25" fill="#e5808c" fill-opacity="0.8" stroke="#555" stroke-width="0.4" stroke-opacity="0.45"/>
<circle cx="78.35" cy="128.81" r="1.25" fill="#e5808c" fill-opacity="0.8" stroke="#555" stroke-width="0.4" stroke-opacity="0.45"/>
<circle cx="89.00" cy="122.99" r="1.25" fill="#8a94b4" fill-opacity="0.8" stroke="#555" stroke-width="0.4" stroke-opacity="0.45"/>
<circle cx="87.18" cy="127.99" r="1.25" fill="#e5808c" fill-opacity="0.8" stroke="#555" stroke-width="0.4" stroke-opacity="0.45"/>
<circle cx="87.89" cy="130.95" r="1.25" fill="#8a94b4" fill-opacity="0.8" stroke="#555" stroke-width="0.4" stroke-opacity="0.45"/>
<circle cx="65.37" cy="132.79" r="1.25" fill="#e5808c" fill-opacity="0.8" stroke="#555" stroke-width="0.4" stroke-opacity="0.45"/>
<circle cx="58.99" cy="133.91" r="1.25" fill="#dc7c9c" fill-opacity="0.8" stroke="#555" stroke-width="0.4" stroke-opacity="0.45"/>
<circle cx="61.52" cy="137.18" r="1.25" fill="#e5808c" fill-opacity="0.8" stroke="#555" stroke-width="0.4" stroke-opacity="0.45"/>
<circle cx="65.98" cy="138.00" r="1.25" fill="#e5808c" fill-opacity="0.8" stroke="#555" stroke-width="0.4" stroke-opacity="0.45"/>
<circle cx="73.99" cy="135.45" r="1.25" fill="#e5808c" fill-opacity="0.8" stroke="#555" stroke-width="0.4" stroke-opacity="0.45"/>
<circle cx="79.17" cy="135.45" r="1.25" fill="#e5808c" fill-opacity="0.8" stroke="#555" stroke-width="0.4" stroke-opacity="0.45"/>
<circle cx="76.43" cy="138.51" r="1.25" fill="#e5808c" fill-opacity="0.8" stroke="#555" stroke-width="0.4" stroke-opacity="0.45"/>
<circle cx="78.56" cy="139.43" r="1.25" fill="#e5808c" fill-opacity="0.8" stroke="#555" stroke-width="0.4" stroke-opacity="0.45"/>
<circle cx="83.83" cy="136.57" r="1.25" fill="#e5808c" fill-opacity="0.8" stroke="#555" stroke-width="0.4" stroke-opacity="0.45"/>
<circle cx="68.72" cy="143.21" r="1.25" fill="#e5808c" fill-opacity="0.8" stroke="#555" stroke-width="0.4" stroke-opacity="0.45"/>
<circle cx="56.86" cy="142.39" r="1.25" fill="#dc7c9c" fill-opacity="0.8" stroke="#555" stroke-width="0.4" stroke-opacity="0.45"/>
<circle cx="92.65" cy="140.76" r="1.25" fill="#8a94b4" fill-opacity="0.8" stroke="#555" stroke-width="0.4" stroke-opacity="0.45"/>
<circle cx="116.99" cy="109.20" r="1.25" fill="#8a94b4" fill-opacity="0.8" stroke="#555" stroke-width="0.4" stroke-opacity="0.45"/>
<circle cx="111.21" cy="120.84" r="1.25" fill="#8a94b4" fill-opacity="0.8" stroke="#555" stroke-width="0.4" stroke-opacity="0.45"/>
<circle cx="94.99" cy="123.60" r="1.25" fill="#8a94b4" fill-opacity="0.8" stroke="#555" stroke-width="0.4" stroke-opacity="0.45"/>
<circle cx="96.30" cy="122.47" r="1.25" fill="#8a94b4" fill-opacity="0.8" stroke="#555" stroke-width="0.4" stroke-opacity="0.45"/>
<circle cx="99.14" cy="124.62" r="1.25" fill="#8a94b4" fill-opacity="0.8" stroke="#555" stroke-width="0.4" stroke-opacity="0.45"/>
<circle cx="103.50" cy="125.23" r="1.25" fill="#8a94b4" fill-opacity="0.8" stroke="#555" stroke-width="0.4" stroke-opacity="0.45"/>
<circle cx="122.26" cy="128.50" r="1.25" fill="#8a94b4" fill-opacity="0.8" stroke="#555" stroke-width="0.4" stroke-opacity="0.45"/>
<circle cx="107.66" cy="131.87" r="1.25" fill="#8a94b4" fill-opacity="0.8" stroke="#555" stroke-width="0.4" stroke-opacity="0.45"/>
<circle cx="113.85" cy="134.12" r="1.25" fill="#8a94b4" fill-opacity="0.8" stroke="#555" stroke-width="0.4" stroke-opacity="0.45"/>
<circle cx="122.26" cy="134.94" r="1.25" fill="#8a94b4" fill-opacity="0.8" stroke="#555" stroke-width="0.4" stroke-opacity="0.45"/>
<circle cx="125.21" cy="136.26" r="1.25" fill="#8a94b4" fill-opacity="0.8" stroke="#555" stroke-width="0.4" stroke-opacity="0.45"/>
<circle cx="113.44" cy="138.31" r="1.25" fill="#8a94b4" fill-opacity="0.8" stroke="#555" stroke-width="0.4" stroke-opacity="0.45"/>
<circle cx="106.55" cy="139.43" r="1.25" fill="#8a94b4" fill-opacity="0.8" stroke="#555" stroke-width="0.4" stroke-opacity="0.45"/>
<circle cx="118.31" cy="138.72" r="1.25" fill="#8a94b4" fill-opacity="0.8" stroke="#555" stroke-width="0.4" stroke-opacity="0.45"/>
<circle cx="120.85" cy="140.15" r="1.25" fill="#8a94b4" fill-opacity="0.8" stroke="#555" stroke-width="0.4" stroke-opacity="0.45"/>
<circle cx="99.35" cy="143.52" r="1.25" fill="#8a94b4" fill-opacity="0.8" stroke="#555" stroke-width="0.4" stroke-opacity="0.45"/>
<circle cx="109.79" cy="143.21" r="1.25" fill="#38bccf" fill-opacity="0.8" stroke="#555" stroke-width="0.4" stroke-opacity="0.45"/>
<circle cx="112.02" cy="142.90" r="1.25" fill="#38bccf" fill-opacity="0.8" stroke="#555" stroke-width="0.4" stroke-opacity="0.45"/>
<circle cx="113.44" cy="142.39" r="1.25" fill="#38bccf" fill-opacity="0.8" stroke="#555" stroke-width="0.4" stroke-opacity="0.45"/>
<circle cx="117.80" cy="143.21" r="1.25" fill="#38bccf" fill-opacity="0.8" stroke="#555" stroke-width="0.4" stroke-opacity="0.45"/>
<circle cx="37.79" cy="151.18" r="1.25" fill="#dc7c9c" fill-opacity="0.8" stroke="#555" stroke-width="0.4" stroke-opacity="0.45"/>
<circle cx="50.97" cy="147.81" r="1.25" fill="#dc7c9c" fill-opacity="0.8" stroke="#555" stroke-width="0.4" stroke-opacity="0.45"/>
<circle cx="55.34" cy="149.24" r="1.25" fill="#dc7c9c" fill-opacity="0.8" stroke="#555" stroke-width="0.4" stroke-opacity="0.45"/>
<circle cx="65.98" cy="158.12" r="1.25" fill="#b3a832" fill-opacity="0.8" stroke="#555" stroke-width="0.4" stroke-opacity="0.45"/>
<circle cx="69.84" cy="161.39" r="1.25" fill="#b3a832" fill-opacity="0.8" stroke="#555" stroke-width="0.4" stroke-opacity="0.45"/>
<circle cx="70.85" cy="157.61" r="1.25" fill="#b3a832" fill-opacity="0.8" stroke="#555" stroke-width="0.4" stroke-opacity="0.45"/>
<circle cx="72.57" cy="155.88" r="1.25" fill="#b3a832" fill-opacity="0.8" stroke="#555" stroke-width="0.4" stroke-opacity="0.45"/>
<circle cx="73.59" cy="154.24" r="1.25" fill="#b3a832" fill-opacity="0.8" stroke="#555" stroke-width="0.4" stroke-opacity="0.45"/>
<circle cx="75.31" cy="152.61" r="1.25" fill="#b3a832" fill-opacity="0.8" stroke="#555" stroke-width="0.4" stroke-opacity="0.45"/>
<circle cx="76.43" cy="160.88" r="1.25" fill="#b3a832" fill-opacity="0.8" stroke="#555" stroke-width="0.4" stroke-opacity="0.45"/>
<circle cx="78.56" cy="160.37" r="1.25" fill="#b3a832" fill-opacity="0.8" stroke="#555" stroke-width="0.4" stroke-opacity="0.45"/>
<circle cx="78.05" cy="155.37" r="1.25" fill="#b3a832" fill-opacity="0.8" stroke="#555" stroke-width="0.4" stroke-opacity="0.45"/>
<circle cx="81.70" cy="150.36" r="1.25" fill="#b3a832" fill-opacity="0.8" stroke="#555" stroke-width="0.4" stroke-opacity="0.45"/>
<circle cx="82.82" cy="152.61" r="1.25" fill="#b3a832" fill-opacity="0.8" stroke="#555" stroke-width="0.4" stroke-opacity="0.45"/>
<circle cx="82.41" cy="155.88" r="1.25" fill="#b3a832" fill-opacity="0.8" stroke="#555" stroke-width="0.4" stroke-opacity="0.45"/>
<circle cx="82.11" cy="157.61" r="1.25" fill="#b3a832" fill-opacity="0.8" stroke="#555" stroke-width="0.4" stroke-opacity="0.45"/>
<circle cx="85.45" cy="148.73" r="1.25" fill="#b3a832" fill-opacity="0.8" stroke="#555" stroke-width="0.4" stroke-opacity="0.45"/>
<circle cx="86.26" cy="153.12" r="1.25" fill="#b3a832" fill-opacity="0.8" stroke="#555" stroke-width="0.4" stroke-opacity="0.45"/>
<circle cx="85.15" cy="155.37" r="1.25" fill="#b3a832" fill-opacity="0.8" stroke="#555" stroke-width="0.4" stroke-opacity="0.45"/>
<circle cx="89.00" cy="153.73" r="1.25" fill="#b3a832" fill-opacity="0.8" stroke="#555" stroke-width="0.4" stroke-opacity="0.45"/>
<circle cx="89.00" cy="157.61" r="1.25" fill="#b3a832" fill-opacity="0.8" stroke="#555" stroke-width="0.4" stroke-opacity="0.45"/>
<circle cx="91.74" cy="155.37" r="1.25" fill="#b3a832" fill-opacity="0.8" stroke="#555" stroke-width="0.4" stroke-opacity="0.45"/>
<circle cx="92.86" cy="151.48" r="1.25" fill="#38bccf" fill-opacity="0.8" stroke="#555" stroke-width="0.4" stroke-opacity="0.45"/>
<circle cx="91.74" cy="157.61" r="1.25" fill="#b3a832" fill-opacity="0.8" stroke="#555" stroke-width="0.4" stroke-opacity="0.45"/>
<circle cx="57.67" cy="165.89" r="1.25" fill="#b3a832" fill-opacity="0.8" stroke="#555" stroke-width="0.4" stroke-opacity="0.45"/>
<circle cx="60.81" cy="163.64" r="1.25" fill="#b3a832" fill-opacity="0.8" stroke="#555" stroke-width="0.4" stroke-opacity="0.45"/>
<circle cx="88.70" cy="166.60" r="1.25" fill="#3ea85a" fill-opacity="0.8" stroke="#555" stroke-width="0.4" stroke-opacity="0.45"/>
<circle cx="90.73" cy="166.60" r="1.25" fill="#3ea85a" fill-opacity="0.8" stroke="#555" stroke-width="0.4" stroke-opacity="0.45"/>
<circle cx="89.71" cy="166.09" r="1.25" fill="#3ea85a" fill-opacity="0.8" stroke="#555" stroke-width="0.4" stroke-opacity="0.45"/>
<circle cx="64.87" cy="175.49" r="1.25" fill="#3ea85a" fill-opacity="0.8" stroke="#555" stroke-width="0.4" stroke-opacity="0.45"/>
<circle cx="70.85" cy="176.20" r="1.25" fill="#3ea85a" fill-opacity="0.8" stroke="#555" stroke-width="0.4" stroke-opacity="0.45"/>
<circle cx="94.99" cy="145.35" r="1.25" fill="#8a94b4" fill-opacity="0.8" stroke="#555" stroke-width="0.4" stroke-opacity="0.45"/>
<circle cx="98.84" cy="143.72" r="1.25" fill="#8a94b4" fill-opacity="0.8" stroke="#555" stroke-width="0.4" stroke-opacity="0.45"/>
<circle cx="99.35" cy="145.97" r="1.25" fill="#38bccf" fill-opacity="0.8" stroke="#555" stroke-width="0.4" stroke-opacity="0.45"/>
<circle cx="96.10" cy="148.73" r="1.25" fill="#38bccf" fill-opacity="0.8" stroke="#555" stroke-width="0.4" stroke-opacity="0.45"/>
<circle cx="97.72" cy="149.24" r="1.25" fill="#38bccf" fill-opacity="0.8" stroke="#555" stroke-width="0.4" stroke-opacity="0.45"/>
<circle cx="99.35" cy="148.73" r="1.25" fill="#38bccf" fill-opacity="0.8" stroke="#555" stroke-width="0.4" stroke-opacity="0.45"/>
<circle cx="94.38" cy="150.97" r="1.25" fill="#38bccf" fill-opacity="0.8" stroke="#555" stroke-width="0.4" stroke-opacity="0.45"/>
<circle cx="97.22" cy="151.48" r="1.25" fill="#38bccf" fill-opacity="0.8" stroke="#555" stroke-width="0.4" stroke-opacity="0.45"/>
<circle cx="98.84" cy="151.99" r="1.25" fill="#38bccf" fill-opacity="0.8" stroke="#555" stroke-width="0.4" stroke-opacity="0.45"/>
<circle cx="102.69" cy="148.73" r="1.25" fill="#38bccf" fill-opacity="0.8" stroke="#555" stroke-width="0.4" stroke-opacity="0.45"/>
<circle cx="104.32" cy="147.60" r="1.25" fill="#38bccf" fill-opacity="0.8" stroke="#555" stroke-width="0.4" stroke-opacity="0.45"/>
<circle cx="105.94" cy="145.97" r="1.25" fill="#38bccf" fill-opacity="0.8" stroke="#555" stroke-width="0.4" stroke-opacity="0.45"/>
<circle cx="112.02" cy="145.35" r="1.25" fill="#38bccf" fill-opacity="0.8" stroke="#555" stroke-width="0.4" stroke-opacity="0.45"/>
<circle cx="109.08" cy="149.24" r="1.25" fill="#38bccf" fill-opacity="0.8" stroke="#555" stroke-width="0.4" stroke-opacity="0.45"/>
<circle cx="112.02" cy="152.30" r="1.25" fill="#8a94b4" fill-opacity="0.8" stroke="#555" stroke-width="0.4" stroke-opacity="0.45"/>
<circle cx="116.38" cy="154.85" r="1.25" fill="#8a94b4" fill-opacity="0.8" stroke="#555" stroke-width="0.4" stroke-opacity="0.45"/>
<circle cx="125.71" cy="148.52" r="1.25" fill="#8a94b4" fill-opacity="0.8" stroke="#555" stroke-width="0.4" stroke-opacity="0.45"/>
<circle cx="124.39" cy="148.73" r="1.25" fill="#8a94b4" fill-opacity="0.8" stroke="#555" stroke-width="0.4" stroke-opacity="0.45"/>
<circle cx="96.10" cy="153.73" r="1.25" fill="#38bccf" fill-opacity="0.8" stroke="#555" stroke-width="0.4" stroke-opacity="0.45"/>
<circle cx="97.22" cy="154.24" r="1.25" fill="#38bccf" fill-opacity="0.8" stroke="#555" stroke-width="0.4" stroke-opacity="0.45"/>
<circle cx="107.97" cy="155.88" r="1.25" fill="#8a94b4" fill-opacity="0.8" stroke="#555" stroke-width="0.4" stroke-opacity="0.45"/>
<circle cx="108.68" cy="157.61" r="1.25" fill="#8a94b4" fill-opacity="0.8" stroke="#555" stroke-width="0.4" stroke-opacity="0.45"/>
<circle cx="104.82" cy="158.12" r="1.25" fill="#8a94b4" fill-opacity="0.8" stroke="#555" stroke-width="0.4" stroke-opacity="0.45"/>
<circle cx="106.85" cy="160.88" r="1.25" fill="#3ea85a" fill-opacity="0.8" stroke="#555" stroke-width="0.4" stroke-opacity="0.45"/>
<circle cx="98.84" cy="160.37" r="1.25" fill="#3ea85a" fill-opacity="0.8" stroke="#555" stroke-width="0.4" stroke-opacity="0.45"/>
<circle cx="100.97" cy="161.09" r="1.25" fill="#3ea85a" fill-opacity="0.8" stroke="#555" stroke-width="0.4" stroke-opacity="0.45"/>
<circle cx="97.72" cy="164.46" r="1.25" fill="#3ea85a" fill-opacity="0.8" stroke="#555" stroke-width="0.4" stroke-opacity="0.45"/>
<circle cx="96.10" cy="167.52" r="1.25" fill="#3ea85a" fill-opacity="0.8" stroke="#555" stroke-width="0.4" stroke-opacity="0.45"/>
<circle cx="100.26" cy="170.28" r="1.25" fill="#3ea85a" fill-opacity="0.8" stroke="#555" stroke-width="0.4" stroke-opacity="0.45"/>
<circle cx="95.70" cy="167.42" r="1.25" fill="#3ea85a" fill-opacity="0.8" stroke="#555" stroke-width="0.4" stroke-opacity="0.45"/>
<circle cx="72.37" cy="159.66" r="1.25" fill="#b3a832" fill-opacity="0.8" stroke="#555" stroke-width="0.4" stroke-opacity="0.45"/>
<circle cx="83.63" cy="136.67" r="1.25" fill="#e5808c" fill-opacity="0.8" stroke="#555" stroke-width="0.4" stroke-opacity="0.45"/>
<circle cx="92.45" cy="140.86" r="1.25" fill="#8a94b4" fill-opacity="0.8" stroke="#555" stroke-width="0.4" stroke-opacity="0.45"/>
<circle cx="104.01" cy="148.11" r="1.25" fill="#38bccf" fill-opacity="0.8" stroke="#555" stroke-width="0.4" stroke-opacity="0.45"/>
<circle cx="85.86" cy="148.11" r="1.25" fill="#b3a832" fill-opacity="0.8" stroke="#555" stroke-width="0.4" stroke-opacity="0.45"/>
<circle cx="82.21" cy="149.75" r="1.25" fill="#b3a832" fill-opacity="0.8" stroke="#555" stroke-width="0.4" stroke-opacity="0.45"/>
<circle cx="89.61" cy="149.75" r="1.25" fill="#b3a832" fill-opacity="0.8" stroke="#555" stroke-width="0.4" stroke-opacity="0.45"/>
<circle cx="100.36" cy="150.16" r="1.25" fill="#38bccf" fill-opacity="0.8" stroke="#555" stroke-width="0.4" stroke-opacity="0.45"/>
<circle cx="99.45" cy="153.53" r="1.25" fill="#38bccf" fill-opacity="0.8" stroke="#555" stroke-width="0.4" stroke-opacity="0.45"/>
<circle cx="82.61" cy="153.53" r="1.25" fill="#b3a832" fill-opacity="0.8" stroke="#555" stroke-width="0.4" stroke-opacity="0.45"/>
<circle cx="79.27" cy="153.12" r="1.25" fill="#b3a832" fill-opacity="0.8" stroke="#555" stroke-width="0.4" stroke-opacity="0.45"/>
<circle cx="87.58" cy="152.71" r="1.25" fill="#b3a832" fill-opacity="0.8" stroke="#555" stroke-width="0.4" stroke-opacity="0.45"/>
<circle cx="90.02" cy="153.12" r="1.25" fill="#b3a832" fill-opacity="0.8" stroke="#555" stroke-width="0.4" stroke-opacity="0.45"/>
<circle cx="88.39" cy="155.57" r="1.25" fill="#b3a832" fill-opacity="0.8" stroke="#555" stroke-width="0.4" stroke-opacity="0.45"/>
<circle cx="82.61" cy="156.80" r="1.25" fill="#b3a832" fill-opacity="0.8" stroke="#555" stroke-width="0.4" stroke-opacity="0.45"/>
<circle cx="91.23" cy="156.80" r="1.25" fill="#b3a832" fill-opacity="0.8" stroke="#555" stroke-width="0.4" stroke-opacity="0.45"/>
<circle cx="77.65" cy="154.75" r="1.25" fill="#b3a832" fill-opacity="0.8" stroke="#555" stroke-width="0.4" stroke-opacity="0.45"/>
<circle cx="78.46" cy="160.17" r="1.25" fill="#b3a832" fill-opacity="0.8" stroke="#555" stroke-width="0.4" stroke-opacity="0.45"/>
<circle cx="89.61" cy="158.53" r="1.25" fill="#b3a832" fill-opacity="0.8" stroke="#555" stroke-width="0.4" stroke-opacity="0.45"/>
<circle cx="98.64" cy="159.76" r="1.25" fill="#3ea85a" fill-opacity="0.8" stroke="#555" stroke-width="0.4" stroke-opacity="0.45"/>
<circle cx="101.58" cy="161.39" r="1.25" fill="#3ea85a" fill-opacity="0.8" stroke="#555" stroke-width="0.4" stroke-opacity="0.45"/>
<circle cx="99.95" cy="162.21" r="1.25" fill="#3ea85a" fill-opacity="0.8" stroke="#555" stroke-width="0.4" stroke-opacity="0.45"/>
<circle cx="107.36" cy="155.98" r="1.25" fill="#8a94b4" fill-opacity="0.8" stroke="#555" stroke-width="0.4" stroke-opacity="0.45"/>
<circle cx="106.04" cy="161.39" r="1.25" fill="#3ea85a" fill-opacity="0.8" stroke="#555" stroke-width="0.4" stroke-opacity="0.45"/>
<circle cx="98.23" cy="164.76" r="1.25" fill="#3ea85a" fill-opacity="0.8" stroke="#555" stroke-width="0.4" stroke-opacity="0.45"/>
<circle cx="90.83" cy="164.86" r="1.25" fill="#3ea85a" fill-opacity="0.8" stroke="#555" stroke-width="0.4" stroke-opacity="0.45"/>
<circle cx="90.52" cy="157.92" r="1.25" fill="#b3a832" fill-opacity="0.8" stroke="#555" stroke-width="0.4" stroke-opacity="0.45"/>
<circle cx="77.14" cy="155.67" r="1.25" fill="#b3a832" fill-opacity="0.8" stroke="#555" stroke-width="0.4" stroke-opacity="0.45"/>
<circle cx="96.10" cy="150.56" r="1.25" fill="#38bccf" fill-opacity="0.8" stroke="#555" stroke-width="0.4" stroke-opacity="0.45"/>
<circle cx="100.56" cy="148.32" r="1.25" fill="#38bccf" fill-opacity="0.8" stroke="#555" stroke-width="0.4" stroke-opacity="0.45"/>
<circle cx="103.61" cy="146.68" r="1.25" fill="#38bccf" fill-opacity="0.8" stroke="#555" stroke-width="0.4" stroke-opacity="0.45"/>
<circle cx="106.65" cy="145.25" r="1.25" fill="#38bccf" fill-opacity="0.8" stroke="#555" stroke-width="0.4" stroke-opacity="0.45"/>
<circle cx="108.27" cy="144.64" r="1.25" fill="#38bccf" fill-opacity="0.8" stroke="#555" stroke-width="0.4" stroke-opacity="0.45"/>
<circle cx="110.30" cy="143.93" r="1.25" fill="#38bccf" fill-opacity="0.8" stroke="#555" stroke-width="0.4" stroke-opacity="0.45"/>
<circle cx="112.43" cy="142.90" r="1.25" fill="#38bccf" fill-opacity="0.8" stroke="#555" stroke-width="0.4" stroke-opacity="0.45"/>
<circle cx="114.35" cy="141.78" r="1.25" fill="#38bccf" fill-opacity="0.8" stroke="#555" stroke-width="0.4" stroke-opacity="0.45"/>
<circle cx="96.51" cy="153.12" r="1.25" fill="#38bccf" fill-opacity="0.8" stroke="#555" stroke-width="0.4" stroke-opacity="0.45"/>
<circle cx="100.06" cy="151.79" r="1.25" fill="#38bccf" fill-opacity="0.8" stroke="#555" stroke-width="0.4" stroke-opacity="0.45"/>
<circle cx="101.48" cy="149.95" r="1.25" fill="#38bccf" fill-opacity="0.8" stroke="#555" stroke-width="0.4" stroke-opacity="0.45"/>
<rect x="13.8" y="107.2" width="117.89999999999999" height="72.10000000000001" fill="none" stroke="#999999" stroke-width="0.9"/>
<line x1="24.00" y1="179.30" x2="24.00" y2="180.80" stroke="#555" stroke-width="0.5"/>
<text transform="translate(23.50 183.90) rotate(0)" x="0" y="1.30" font-size="3.6" text-anchor="middle" fill="#4d4d4d" color="#4d4d4d" font-weight="normal">-30</text>
<line x1="45.60" y1="179.30" x2="45.60" y2="180.80" stroke="#555" stroke-width="0.5"/>
<text transform="translate(45.10 183.90) rotate(0)" x="0" y="1.30" font-size="3.6" text-anchor="middle" fill="#4d4d4d" color="#4d4d4d" font-weight="normal">-20</text>
<line x1="67.20" y1="179.30" x2="67.20" y2="180.80" stroke="#555" stroke-width="0.5"/>
<text transform="translate(66.70 183.90) rotate(0)" x="0" y="1.30" font-size="3.6" text-anchor="middle" fill="#4d4d4d" color="#4d4d4d" font-weight="normal">-10</text>
<line x1="88.80" y1="179.30" x2="88.80" y2="180.80" stroke="#555" stroke-width="0.5"/>
<text transform="translate(88.80 183.90) rotate(0)" x="0" y="1.30" font-size="3.6" text-anchor="middle" fill="#4d4d4d" color="#4d4d4d" font-weight="normal">0</text>
<line x1="110.40" y1="179.30" x2="110.40" y2="180.80" stroke="#555" stroke-width="0.5"/>
<text transform="translate(110.40 183.90) rotate(0)" x="0" y="1.30" font-size="3.6" text-anchor="middle" fill="#4d4d4d" color="#4d4d4d" font-weight="normal">10</text>
<line x1="12.30" y1="126.05" x2="13.80" y2="126.05" stroke="#555" stroke-width="0.5"/>
<text transform="translate(11.60 126.05) rotate(0)" x="0" y="1.30" font-size="3.6" text-anchor="end" fill="#4d4d4d" color="#4d4d4d" font-weight="normal">10</text>
<line x1="12.30" y1="147.50" x2="13.80" y2="147.50" stroke="#555" stroke-width="0.5"/>
<text transform="translate(11.60 147.50) rotate(0)" x="0" y="1.30" font-size="3.6" text-anchor="end" fill="#4d4d4d" color="#4d4d4d" font-weight="normal">0</text>
<line x1="12.30" y1="168.95" x2="13.80" y2="168.95" stroke="#555" stroke-width="0.5"/>
<text transform="translate(11.60 168.95) rotate(0)" x="0" y="1.30" font-size="3.6" text-anchor="end" fill="#4d4d4d" color="#4d4d4d" font-weight="normal">-10</text>
<text transform="translate(72.75 189.20) rotate(0)" x="0" y="1.80" font-size="5.0" text-anchor="middle" fill="#1a1a1a" color="#1a1a1a" font-weight="normal">MDS1</text>
<text transform="translate(1.90 143.25) rotate(-90)" x="0" y="1.84" font-size="5.1" text-anchor="middle" fill="#1a1a1a" color="#1a1a1a" font-weight="normal">MDS2</text>
<text transform="translate(139.00 134.00) rotate(0)" x="0" y="1.60" font-size="5.2" text-anchor="start" fill="#1a1a1a" color="#1a1a1a" font-weight="normal">cluster</text>
<circle cx="142.50" cy="142.00" r="1.05" fill="#ee8a95"/>
<text transform="translate(150.00 142.00) rotate(0)" x="0" y="1.40" font-size="3.9" text-anchor="middle" fill="#1a1a1a" color="#1a1a1a" font-weight="normal">1</text>
<circle cx="142.50" cy="151.60" r="1.05" fill="#70b0b0"/>
<text transform="translate(150.00 151.60) rotate(0)" x="0" y="1.40" font-size="3.9" text-anchor="middle" fill="#1a1a1a" color="#1a1a1a" font-weight="normal">4</text>
<circle cx="157.50" cy="142.00" r="1.05" fill="#c8c070"/>
<text transform="translate(164.50 142.00) rotate(0)" x="0" y="1.40" font-size="3.9" text-anchor="middle" fill="#1a1a1a" color="#1a1a1a" font-weight="normal">2</text>
<circle cx="157.50" cy="151.60" r="1.05" fill="#a8a8b0"/>
<text transform="translate(164.50 151.60) rotate(0)" x="0" y="1.40" font-size="3.9" text-anchor="middle" fill="#1a1a1a" color="#1a1a1a" font-weight="normal">5</text>
<circle cx="171.60" cy="142.00" r="1.05" fill="#90b098"/>
<text transform="translate(178.80 142.00) rotate(0)" x="0" y="1.40" font-size="3.9" text-anchor="middle" fill="#1a1a1a" color="#1a1a1a" font-weight="normal">3</text>
<circle cx="171.60" cy="151.60" r="1.05" fill="#d098b0"/>
<text transform="translate(178.80 151.60) rotate(0)" x="0" y="1.40" font-size="3.9" text-anchor="middle" fill="#1a1a1a" color="#1a1a1a" font-weight="normal">6</text>
<text x="221.50" y="15.60" font-size="5.5" text-anchor="middle" fill="#1a1a1a" color="#1a1a1a" font-weight="normal">ACPA neg</text>
<path d="M221.00,22.10 A28.9,28.9 0 0 1 246.47,37.35 L234.40,43.82 A15.2,15.2 0 0 0 221.00,35.80 Z" fill="#f6b8b6" stroke="#d8a0a0" stroke-width="0.45"/>
<path d="M246.47,37.35 A28.9,28.9 0 0 1 238.87,73.71 L230.40,62.95 A15.2,15.2 0 0 0 234.40,43.82 Z" fill="#dcd88e" stroke="#bcb878" stroke-width="0.45"/>
<path d="M238.87,73.71 A28.9,28.9 0 0 1 218.26,79.77 L219.56,66.13 A15.2,15.2 0 0 0 230.40,62.95 Z" fill="#acdca8" stroke="#90bc8c" stroke-width="0.45"/>
<path d="M215.76,80.46 A28.9,28.9 0 0 1 201.35,28.43 L209.48,39.46 A15.2,15.2 0 0 0 217.05,66.83 Z" fill="#a6dcdc" stroke="#8cbcbc" stroke-width="0.45"/>
<path d="M203.85,27.74 A28.9,28.9 0 0 1 217.32,22.33 L219.07,35.92 A15.2,15.2 0 0 0 211.98,38.76 Z" fill="#bcc2ee" stroke="#a0a6cc" stroke-width="0.45"/>
<path d="M217.32,22.33 A28.9,28.9 0 0 1 220.98,22.10 L220.99,35.80 A15.2,15.2 0 0 0 219.07,35.92 Z" fill="#e8b6e0" stroke="#c89ac0" stroke-width="0.45"/>
<text transform="translate(196.90 68.90) rotate(0)" x="0" y="1.20" font-size="3.9" text-anchor="start" fill="#222" color="#222" font-weight="normal">p = 0.002</text>
<text x="333.80" y="15.30" font-size="5.5" text-anchor="middle" fill="#1a1a1a" color="#1a1a1a" font-weight="normal">ACPA pos</text>
<path d="M333.30,22.20 A28.9,28.9 0 0 1 347.74,26.07 L340.90,37.93 A15.2,15.2 0 0 0 333.30,35.90 Z" fill="#f6b8b6" stroke="#d8a0a0" stroke-width="0.45"/>
<path d="M347.74,26.07 A28.9,28.9 0 0 1 361.22,58.57 L347.98,55.03 A15.2,15.2 0 0 0 340.90,37.93 Z" fill="#dcd88e" stroke="#bcb878" stroke-width="0.45"/>
<path d="M361.22,58.57 A28.9,28.9 0 0 1 344.38,77.79 L339.13,65.14 A15.2,15.2 0 0 0 347.98,55.03 Z" fill="#acdca8" stroke="#90bc8c" stroke-width="0.45"/>
<path d="M344.38,77.79 A28.9,28.9 0 0 1 322.26,77.81 L327.49,65.15 A15.2,15.2 0 0 0 339.13,65.14 Z" fill="#a6dcdc" stroke="#8cbcbc" stroke-width="0.45"/>
<path d="M322.26,77.81 A28.9,28.9 0 0 1 304.40,51.12 L318.10,51.11 A15.2,15.2 0 0 0 327.49,65.15 Z" fill="#bcc2ee" stroke="#a0a6cc" stroke-width="0.45"/>
<path d="M302.28,49.00 A28.9,28.9 0 0 1 331.16,20.08 L331.17,33.78 A15.2,15.2 0 0 0 315.98,48.99 Z" fill="#e8b6e0" stroke="#c89ac0" stroke-width="0.45"/>
<text transform="translate(310.30 30.90) rotate(0)" x="0" y="1.20" font-size="3.8" text-anchor="start" fill="#222" color="#222" font-weight="normal">p &lt; 0.0001</text>
<text transform="translate(258.80 27.20) rotate(0)" x="0" y="1.76" font-size="4.9" text-anchor="middle" fill="#1a1a1a" color="#1a1a1a" font-weight="normal">1</text>
<rect x="262.4" y="25.50" width="6.1" height="3.4" fill="#f8dcdb" stroke="#d8a0a0" stroke-width="0.7"/>
<text transform="translate(271.70 27.20) rotate(0)" x="0" y="1.66" font-size="4.6" text-anchor="start" fill="#1a1a1a" color="#1a1a1a" font-weight="normal">17.17%</text>
<text transform="translate(258.80 33.00) rotate(0)" x="0" y="1.76" font-size="4.9" text-anchor="middle" fill="#1a1a1a" color="#1a1a1a" font-weight="normal">2</text>
<rect x="262.4" y="31.30" width="6.1" height="3.4" fill="#eeecc8" stroke="#bcb878" stroke-width="0.7"/>
<text transform="translate(271.70 33.00) rotate(0)" x="0" y="1.66" font-size="4.6" text-anchor="start" fill="#1a1a1a" color="#1a1a1a" font-weight="normal">22.22%</text>
<text transform="translate(258.80 38.80) rotate(0)" x="0" y="1.76" font-size="4.9" text-anchor="middle" fill="#1a1a1a" color="#1a1a1a" font-weight="normal">3</text>
<rect x="262.4" y="37.10" width="6.1" height="3.4" fill="#d6eed4" stroke="#90bc8c" stroke-width="0.7"/>
<text transform="translate(271.70 38.80) rotate(0)" x="0" y="1.66" font-size="4.6" text-anchor="start" fill="#1a1a1a" color="#1a1a1a" font-weight="normal">12.12%</text>
<text transform="translate(258.80 44.60) rotate(0)" x="0" y="1.76" font-size="4.9" text-anchor="middle" fill="#1a1a1a" color="#1a1a1a" font-weight="normal">4</text>
<rect x="262.4" y="42.90" width="6.1" height="3.4" fill="#d3eeee" stroke="#8cbcbc" stroke-width="0.7"/>
<text transform="translate(271.70 44.60) rotate(0)" x="0" y="1.66" font-size="4.6" text-anchor="start" fill="#1a1a1a" color="#1a1a1a" font-weight="normal">38.38%</text>
<text transform="translate(258.80 50.40) rotate(0)" x="0" y="1.76" font-size="4.9" text-anchor="middle" fill="#1a1a1a" color="#1a1a1a" font-weight="normal">5</text>
<rect x="262.4" y="48.70" width="6.1" height="3.4" fill="#dee0f6" stroke="#a0a6cc" stroke-width="0.7"/>
<text transform="translate(271.70 50.40) rotate(0)" x="0" y="1.66" font-size="4.6" text-anchor="start" fill="#1a1a1a" color="#1a1a1a" font-weight="normal">8.08%</text>
<text transform="translate(258.80 56.20) rotate(0)" x="0" y="1.76" font-size="4.9" text-anchor="middle" fill="#1a1a1a" color="#1a1a1a" font-weight="normal">6</text>
<rect x="262.4" y="54.50" width="6.1" height="3.4" fill="#f4dbf0" stroke="#c89ac0" stroke-width="0.7"/>
<text transform="translate(271.70 56.20) rotate(0)" x="0" y="1.66" font-size="4.6" text-anchor="start" fill="#1a1a1a" color="#1a1a1a" font-weight="normal">2.02%</text>
<text transform="translate(371.00 27.20) rotate(0)" x="0" y="1.76" font-size="4.9" text-anchor="middle" fill="#1a1a1a" color="#1a1a1a" font-weight="normal">1</text>
<rect x="374.59999999999997" y="25.50" width="6.1" height="3.4" fill="#f8dcdb" stroke="#d8a0a0" stroke-width="0.7"/>
<text transform="translate(384.40 27.20) rotate(0)" x="0" y="1.66" font-size="4.6" text-anchor="start" fill="#1a1a1a" color="#1a1a1a" font-weight="normal">8.33%</text>
<text transform="translate(371.00 33.00) rotate(0)" x="0" y="1.76" font-size="4.9" text-anchor="middle" fill="#1a1a1a" color="#1a1a1a" font-weight="normal">2</text>
<rect x="374.59999999999997" y="31.30" width="6.1" height="3.4" fill="#eeecc8" stroke="#bcb878" stroke-width="0.7"/>
<text transform="translate(384.40 33.00) rotate(0)" x="0" y="1.66" font-size="4.6" text-anchor="start" fill="#1a1a1a" color="#1a1a1a" font-weight="normal">20.83%</text>
<text transform="translate(371.00 38.80) rotate(0)" x="0" y="1.76" font-size="4.9" text-anchor="middle" fill="#1a1a1a" color="#1a1a1a" font-weight="normal">3</text>
<rect x="374.59999999999997" y="37.10" width="6.1" height="3.4" fill="#d6eed4" stroke="#90bc8c" stroke-width="0.7"/>
<text transform="translate(384.40 38.80) rotate(0)" x="0" y="1.66" font-size="4.6" text-anchor="start" fill="#1a1a1a" color="#1a1a1a" font-weight="normal">14.58%</text>
<text transform="translate(371.00 44.60) rotate(0)" x="0" y="1.76" font-size="4.9" text-anchor="middle" fill="#1a1a1a" color="#1a1a1a" font-weight="normal">4</text>
<rect x="374.59999999999997" y="42.90" width="6.1" height="3.4" fill="#d3eeee" stroke="#8cbcbc" stroke-width="0.7"/>
<text transform="translate(384.40 44.60) rotate(0)" x="0" y="1.66" font-size="4.6" text-anchor="start" fill="#1a1a1a" color="#1a1a1a" font-weight="normal">12.50%</text>
<text transform="translate(371.00 50.40) rotate(0)" x="0" y="1.76" font-size="4.9" text-anchor="middle" fill="#1a1a1a" color="#1a1a1a" font-weight="normal">5</text>
<rect x="374.59999999999997" y="48.70" width="6.1" height="3.4" fill="#dee0f6" stroke="#a0a6cc" stroke-width="0.7"/>
<text transform="translate(384.40 50.40) rotate(0)" x="0" y="1.66" font-size="4.6" text-anchor="start" fill="#1a1a1a" color="#1a1a1a" font-weight="normal">18.75%</text>
<text transform="translate(371.00 56.20) rotate(0)" x="0" y="1.76" font-size="4.9" text-anchor="middle" fill="#1a1a1a" color="#1a1a1a" font-weight="normal">6</text>
<rect x="374.59999999999997" y="54.50" width="6.1" height="3.4" fill="#f4dbf0" stroke="#c89ac0" stroke-width="0.7"/>
<text transform="translate(384.40 56.20) rotate(0)" x="0" y="1.66" font-size="4.6" text-anchor="start" fill="#1a1a1a" color="#1a1a1a" font-weight="normal">25.00%</text>
<rect x="24.4" y="218.2" width="116.1" height="107.30000000000001" fill="#fff"/>
<circle cx="94.40" cy="269.00" r="1.0" fill="#c8c8c8"/>
<circle cx="96.00" cy="269.00" r="1.0" fill="#c8c8c8"/>
<circle cx="97.60" cy="269.00" r="1.0" fill="#c8c8c8"/>
<circle cx="97.60" cy="275.60" r="1.0" fill="#c8c8c8"/>
<circle cx="101.60" cy="275.00" r="1.0" fill="#c8c8c8"/>
<circle cx="77.00" cy="279.00" r="1.0" fill="#c8c8c8"/>
<circle cx="94.40" cy="279.00" r="1.0" fill="#c8c8c8"/>
<circle cx="106.40" cy="279.60" r="1.0" fill="#c8c8c8"/>
<circle cx="133.60" cy="268.40" r="1.0" fill="#c8c8c8"/>
<circle cx="75.00" cy="285.00" r="1.0" fill="#c8c8c8"/>
<circle cx="95.60" cy="285.00" r="1.0" fill="#c8c8c8"/>
<circle cx="98.40" cy="285.60" r="1.0" fill="#c8c8c8"/>
<circle cx="93.60" cy="288.60" r="1.0" fill="#c8c8c8"/>
<circle cx="79.00" cy="295.60" r="1.0" fill="#c8c8c8"/>
<circle cx="93.60" cy="295.60" r="1.0" fill="#c8c8c8"/>
<circle cx="113.00" cy="302.00" r="1.0" fill="#c8c8c8"/>
<circle cx="101.00" cy="305.60" r="1.0" fill="#c8c8c8"/>
<circle cx="87.00" cy="310.40" r="1.0" fill="#c8c8c8"/>
<circle cx="92.00" cy="314.00" r="1.0" fill="#c8c8c8"/>
<circle cx="79.00" cy="316.00" r="1.0" fill="#c8c8c8"/>
<circle cx="85.60" cy="316.00" r="1.0" fill="#c8c8c8"/>
<circle cx="88.00" cy="317.00" r="1.0" fill="#c8c8c8"/>
<circle cx="86.00" cy="318.40" r="1.0" fill="#c8c8c8"/>
<circle cx="79.00" cy="320.00" r="1.0" fill="#c8c8c8"/>
<circle cx="83.00" cy="320.40" r="1.0" fill="#c8c8c8"/>
<circle cx="107.20" cy="246.50" r="1.0" fill="#f0d4c4"/>
<circle cx="110.20" cy="251.00" r="1.0" fill="#f0d4c4"/>
<circle cx="108.50" cy="248.50" r="1.0" fill="#f0d4c4"/>
<line x1="61.35" y1="218.20" x2="61.35" y2="325.50" stroke="#1a1a1a" stroke-width="0.7" stroke-dasharray="2.2,1.6"/>
<line x1="103.65" y1="218.20" x2="103.65" y2="325.50" stroke="#1a1a1a" stroke-width="0.7" stroke-dasharray="2.2,1.6"/>
<line x1="24.40" y1="282.51" x2="140.50" y2="282.51" stroke="#1a1a1a" stroke-width="0.7" stroke-dasharray="2.2,1.6"/>
<line x1="105.20" y1="223.60" x2="109.90" y2="222.90" stroke="#333" stroke-width="0.5"/>
<line x1="119.80" y1="226.50" x2="118.40" y2="236.30" stroke="#333" stroke-width="0.5"/>
<line x1="129.20" y1="226.50" x2="121.60" y2="233.30" stroke="#333" stroke-width="0.5"/>
<line x1="113.50" y1="236.40" x2="117.20" y2="239.40" stroke="#333" stroke-width="0.5"/>
<line x1="102.80" y1="244.40" x2="114.50" y2="242.80" stroke="#333" stroke-width="0.5"/>
<rect x="87.7" y="221.0" width="17.50" height="5.30" rx="0.8" fill="#fff" stroke="#555" stroke-width="0.45"/>
<text transform="translate(96.45 223.85) rotate(0)" x="0" y="1.69" font-size="4.7" text-anchor="middle" fill="#1a1a1a" color="#1a1a1a" font-weight="normal">CCL11</text>
<circle cx="109.90" cy="222.90" r="1.25" fill="#a8743e" stroke="#3a2818" stroke-width="0.45"/>
<rect x="113.2" y="220.8" width="11.50" height="5.70" rx="0.8" fill="#fff" stroke="#555" stroke-width="0.45"/>
<text transform="translate(118.95 223.85) rotate(0)" x="0" y="1.69" font-size="4.7" text-anchor="middle" fill="#1a1a1a" color="#1a1a1a" font-weight="normal">IL1A</text>
<circle cx="118.40" cy="236.30" r="1.25" fill="#a8743e" stroke="#3a2818" stroke-width="0.45"/>
<rect x="128.5" y="220.8" width="9.40" height="5.70" rx="0.8" fill="#fff" stroke="#555" stroke-width="0.45"/>
<text transform="translate(133.20 223.85) rotate(0)" x="0" y="1.69" font-size="4.7" text-anchor="middle" fill="#1a1a1a" color="#1a1a1a" font-weight="normal">IL2</text>
<circle cx="121.60" cy="233.30" r="1.25" fill="#a8743e" stroke="#3a2818" stroke-width="0.45"/>
<rect x="101.6" y="230.8" width="11.90" height="6.20" rx="0.8" fill="#fff" stroke="#555" stroke-width="0.45"/>
<text transform="translate(107.55 234.10) rotate(0)" x="0" y="1.69" font-size="4.7" text-anchor="middle" fill="#1a1a1a" color="#1a1a1a" font-weight="normal">IL1B</text>
<circle cx="117.20" cy="239.40" r="1.25" fill="#a8743e" stroke="#3a2818" stroke-width="0.45"/>
<rect x="89.4" y="241.9" width="13.40" height="5.40" rx="0.8" fill="#fff" stroke="#555" stroke-width="0.45"/>
<text transform="translate(96.10 244.80) rotate(0)" x="0" y="1.69" font-size="4.7" text-anchor="middle" fill="#1a1a1a" color="#1a1a1a" font-weight="normal">IFNG</text>
<circle cx="114.50" cy="242.80" r="1.25" fill="#a8743e" stroke="#3a2818" stroke-width="0.45"/>
<rect x="24.4" y="218.2" width="116.1" height="107.30000000000001" fill="none" stroke="#999999" stroke-width="0.9"/>
<line x1="29.62" y1="325.50" x2="29.62" y2="327.00" stroke="#555" stroke-width="0.5"/>
<text transform="translate(29.12 330.40) rotate(0)" x="0" y="1.55" font-size="4.3" text-anchor="middle" fill="#555" color="#555" font-weight="normal">-2.5</text>
<line x1="50.78" y1="325.50" x2="50.78" y2="327.00" stroke="#555" stroke-width="0.5"/>
<text transform="translate(50.28 330.40) rotate(0)" x="0" y="1.55" font-size="4.3" text-anchor="middle" fill="#555" color="#555" font-weight="normal">-1.5</text>
<line x1="71.92" y1="325.50" x2="71.92" y2="327.00" stroke="#555" stroke-width="0.5"/>
<text transform="translate(71.42 330.40) rotate(0)" x="0" y="1.55" font-size="4.3" text-anchor="middle" fill="#555" color="#555" font-weight="normal">-0.5</text>
<line x1="93.08" y1="325.50" x2="93.08" y2="327.00" stroke="#555" stroke-width="0.5"/>
<text transform="translate(93.08 330.40) rotate(0)" x="0" y="1.55" font-size="4.3" text-anchor="middle" fill="#555" color="#555" font-weight="normal">0.5</text>
<line x1="114.22" y1="325.50" x2="114.22" y2="327.00" stroke="#555" stroke-width="0.5"/>
<text transform="translate(114.22 330.40) rotate(0)" x="0" y="1.55" font-size="4.3" text-anchor="middle" fill="#555" color="#555" font-weight="normal">1.5</text>
<line x1="135.38" y1="325.50" x2="135.38" y2="327.00" stroke="#555" stroke-width="0.5"/>
<text transform="translate(135.38 330.40) rotate(0)" x="0" y="1.55" font-size="4.3" text-anchor="middle" fill="#555" color="#555" font-weight="normal">2.5</text>
<line x1="22.90" y1="321.80" x2="24.40" y2="321.80" stroke="#555" stroke-width="0.5"/>
<text transform="translate(22.10 321.80) rotate(0)" x="0" y="1.55" font-size="4.3" text-anchor="end" fill="#555" color="#555" font-weight="normal">0</text>
<line x1="22.90" y1="291.60" x2="24.40" y2="291.60" stroke="#555" stroke-width="0.5"/>
<text transform="translate(22.10 291.60) rotate(0)" x="0" y="1.55" font-size="4.3" text-anchor="end" fill="#555" color="#555" font-weight="normal">1</text>
<line x1="22.90" y1="261.40" x2="24.40" y2="261.40" stroke="#555" stroke-width="0.5"/>
<text transform="translate(22.10 261.40) rotate(0)" x="0" y="1.55" font-size="4.3" text-anchor="end" fill="#555" color="#555" font-weight="normal">2</text>
<line x1="22.90" y1="231.20" x2="24.40" y2="231.20" stroke="#555" stroke-width="0.5"/>
<text transform="translate(22.10 231.20) rotate(0)" x="0" y="1.55" font-size="4.3" text-anchor="end" fill="#555" color="#555" font-weight="normal">3</text>
<text transform="translate(82.50 337.00) rotate(0)" x="0" y="2.11" font-size="5.85" text-anchor="middle" fill="#1a1a1a" color="#1a1a1a" font-weight="normal">log2(fold change)</text>
<text transform="translate(14.80 271.60) rotate(-90)" x="0" y="2.12" font-size="5.9" text-anchor="middle" fill="#1a1a1a" color="#1a1a1a" font-weight="normal">-log10(adjusted P-value)</text>
<text transform="translate(149.40 253.80) rotate(0)" x="0" y="2.05" font-size="5.7" text-anchor="start" fill="#1a1a1a" color="#1a1a1a" font-weight="normal">Expression</text>
<text transform="translate(149.40 260.30) rotate(0)" x="0" y="2.05" font-size="5.7" text-anchor="start" fill="#1a1a1a" color="#1a1a1a" font-weight="normal">change</text>
<circle cx="154.30" cy="270.00" r="1.25" fill="#ecd2c4"/>
<text transform="translate(161.00 270.00) rotate(0)" x="0" y="1.73" font-size="4.8" text-anchor="start" fill="#1a1a1a" color="#1a1a1a" font-weight="normal">up</text>
<circle cx="154.30" cy="279.00" r="0.5" fill="#333"/>
<text transform="translate(161.00 279.00) rotate(0)" x="0" y="1.73" font-size="4.8" text-anchor="start" fill="#1a1a1a" color="#1a1a1a" font-weight="normal">down</text>
<circle cx="154.30" cy="288.30" r="1.25" fill="#d2d2d2"/>
<text transform="translate(161.00 288.30) rotate(0)" x="0" y="1.73" font-size="4.8" text-anchor="start" fill="#1a1a1a" color="#1a1a1a" font-weight="normal">ns</text>
<line x1="259.30" y1="147.50" x2="259.30" y2="170.00" stroke="#222" stroke-width="0.65"/>
<line x1="259.30" y1="202.80" x2="259.30" y2="219.50" stroke="#222" stroke-width="0.65"/>
<rect x="253.70" y="170.00" width="11.20" height="32.80" fill="#fff" stroke="#222" stroke-width="0.5"/>
<line x1="273.50" y1="144.50" x2="273.50" y2="165.40" stroke="#222" stroke-width="0.65"/>
<line x1="273.50" y1="181.00" x2="273.50" y2="202.70" stroke="#222" stroke-width="0.65"/>
<rect x="267.90" y="165.40" width="11.20" height="15.60" fill="#fff" stroke="#222" stroke-width="0.5"/>
<circle cx="258.82" cy="156.20" r="1.3" fill="#333333" fill-opacity="0.66"/>
<circle cx="263.54" cy="154.31" r="1.3" fill="#333333" fill-opacity="0.66"/>
<circle cx="259.38" cy="156.75" r="1.3" fill="#333333" fill-opacity="0.66"/>
<circle cx="256.15" cy="155.24" r="1.3" fill="#333333" fill-opacity="0.66"/>
<circle cx="260.60" cy="160.86" r="1.3" fill="#333333" fill-opacity="0.66"/>
<circle cx="255.24" cy="151.07" r="1.3" fill="#333333" fill-opacity="0.66"/>
<circle cx="255.21" cy="161.19" r="1.3" fill="#333333" fill-opacity="0.66"/>
<circle cx="261.23" cy="145.84" r="1.3" fill="#333333" fill-opacity="0.66"/>
<circle cx="264.12" cy="164.30" r="1.3" fill="#333333" fill-opacity="0.66"/>
<circle cx="260.84" cy="157.31" r="1.3" fill="#333333" fill-opacity="0.66"/>
<circle cx="255.87" cy="145.30" r="1.3" fill="#333333" fill-opacity="0.66"/>
<circle cx="259.60" cy="166.13" r="1.3" fill="#333333" fill-opacity="0.66"/>
<circle cx="256.08" cy="169.60" r="1.3" fill="#333333" fill-opacity="0.66"/>
<circle cx="254.41" cy="173.81" r="1.3" fill="#333333" fill-opacity="0.66"/>
<circle cx="258.68" cy="181.01" r="1.3" fill="#333333" fill-opacity="0.66"/>
<circle cx="259.50" cy="177.17" r="1.3" fill="#333333" fill-opacity="0.66"/>
<circle cx="259.30" cy="177.59" r="1.3" fill="#333333" fill-opacity="0.66"/>
<circle cx="258.86" cy="170.29" r="1.3" fill="#333333" fill-opacity="0.66"/>
<circle cx="264.48" cy="183.92" r="1.3" fill="#333333" fill-opacity="0.66"/>
<circle cx="262.84" cy="178.45" r="1.3" fill="#333333" fill-opacity="0.66"/>
<circle cx="257.38" cy="169.36" r="1.3" fill="#333333" fill-opacity="0.66"/>
<circle cx="257.11" cy="166.33" r="1.3" fill="#333333" fill-opacity="0.66"/>
<circle cx="262.07" cy="172.61" r="1.3" fill="#333333" fill-opacity="0.66"/>
<circle cx="262.90" cy="172.34" r="1.3" fill="#333333" fill-opacity="0.66"/>
<circle cx="264.06" cy="181.10" r="1.3" fill="#333333" fill-opacity="0.66"/>
<circle cx="254.11" cy="168.98" r="1.3" fill="#333333" fill-opacity="0.66"/>
<circle cx="263.57" cy="173.93" r="1.3" fill="#333333" fill-opacity="0.66"/>
<circle cx="264.30" cy="172.55" r="1.3" fill="#333333" fill-opacity="0.66"/>
<circle cx="254.86" cy="176.96" r="1.3" fill="#333333" fill-opacity="0.66"/>
<circle cx="262.20" cy="170.13" r="1.3" fill="#333333" fill-opacity="0.66"/>
<circle cx="255.01" cy="171.32" r="1.3" fill="#333333" fill-opacity="0.66"/>
<circle cx="264.13" cy="179.40" r="1.3" fill="#333333" fill-opacity="0.66"/>
<circle cx="255.33" cy="169.68" r="1.3" fill="#333333" fill-opacity="0.66"/>
<circle cx="255.15" cy="166.14" r="1.3" fill="#333333" fill-opacity="0.66"/>
<circle cx="262.39" cy="168.38" r="1.3" fill="#333333" fill-opacity="0.66"/>
<circle cx="259.92" cy="173.50" r="1.3" fill="#333333" fill-opacity="0.66"/>
<circle cx="256.08" cy="178.91" r="1.3" fill="#333333" fill-opacity="0.66"/>
<circle cx="255.46" cy="177.23" r="1.3" fill="#333333" fill-opacity="0.66"/>
<circle cx="255.31" cy="172.99" r="1.3" fill="#333333" fill-opacity="0.66"/>
<circle cx="256.31" cy="170.13" r="1.3" fill="#333333" fill-opacity="0.66"/>
<circle cx="264.20" cy="180.26" r="1.3" fill="#333333" fill-opacity="0.66"/>
<circle cx="257.26" cy="181.81" r="1.3" fill="#333333" fill-opacity="0.66"/>
<circle cx="256.29" cy="172.49" r="1.3" fill="#333333" fill-opacity="0.66"/>
<circle cx="262.99" cy="177.19" r="1.3" fill="#333333" fill-opacity="0.66"/>
<circle cx="255.14" cy="183.80" r="1.3" fill="#333333" fill-opacity="0.66"/>
<circle cx="256.32" cy="169.91" r="1.3" fill="#333333" fill-opacity="0.66"/>
<circle cx="262.14" cy="171.25" r="1.3" fill="#333333" fill-opacity="0.66"/>
<circle cx="257.18" cy="166.39" r="1.3" fill="#333333" fill-opacity="0.66"/>
<circle cx="255.04" cy="176.07" r="1.3" fill="#333333" fill-opacity="0.66"/>
<circle cx="256.63" cy="176.42" r="1.3" fill="#333333" fill-opacity="0.66"/>
<circle cx="257.97" cy="173.61" r="1.3" fill="#333333" fill-opacity="0.66"/>
<circle cx="264.08" cy="174.19" r="1.3" fill="#333333" fill-opacity="0.66"/>
<circle cx="260.08" cy="181.46" r="1.3" fill="#333333" fill-opacity="0.66"/>
<circle cx="256.13" cy="186.93" r="1.3" fill="#333333" fill-opacity="0.66"/>
<circle cx="263.38" cy="199.54" r="1.3" fill="#333333" fill-opacity="0.66"/>
<circle cx="256.79" cy="187.61" r="1.3" fill="#333333" fill-opacity="0.66"/>
<circle cx="261.69" cy="201.87" r="1.3" fill="#333333" fill-opacity="0.66"/>
<circle cx="256.27" cy="202.05" r="1.3" fill="#333333" fill-opacity="0.66"/>
<circle cx="263.12" cy="195.47" r="1.3" fill="#333333" fill-opacity="0.66"/>
<circle cx="258.51" cy="185.97" r="1.3" fill="#333333" fill-opacity="0.66"/>
<circle cx="254.69" cy="202.29" r="1.3" fill="#333333" fill-opacity="0.66"/>
<circle cx="256.68" cy="197.39" r="1.3" fill="#333333" fill-opacity="0.66"/>
<circle cx="256.87" cy="199.65" r="1.3" fill="#333333" fill-opacity="0.66"/>
<circle cx="260.26" cy="189.58" r="1.3" fill="#333333" fill-opacity="0.66"/>
<circle cx="256.05" cy="197.69" r="1.3" fill="#333333" fill-opacity="0.66"/>
<circle cx="254.99" cy="188.34" r="1.3" fill="#333333" fill-opacity="0.66"/>
<circle cx="259.89" cy="200.20" r="1.3" fill="#333333" fill-opacity="0.66"/>
<circle cx="260.44" cy="189.32" r="1.3" fill="#333333" fill-opacity="0.66"/>
<circle cx="263.47" cy="187.88" r="1.3" fill="#333333" fill-opacity="0.66"/>
<circle cx="254.47" cy="189.11" r="1.3" fill="#333333" fill-opacity="0.66"/>
<circle cx="258.76" cy="185.15" r="1.3" fill="#333333" fill-opacity="0.66"/>
<circle cx="256.71" cy="209.64" r="1.3" fill="#333333" fill-opacity="0.66"/>
<circle cx="259.88" cy="205.37" r="1.3" fill="#333333" fill-opacity="0.66"/>
<circle cx="258.20" cy="219.04" r="1.3" fill="#333333" fill-opacity="0.66"/>
<circle cx="263.14" cy="214.82" r="1.3" fill="#333333" fill-opacity="0.66"/>
<circle cx="260.83" cy="213.52" r="1.3" fill="#333333" fill-opacity="0.66"/>
<circle cx="256.42" cy="203.63" r="1.3" fill="#333333" fill-opacity="0.66"/>
<circle cx="255.44" cy="219.38" r="1.3" fill="#333333" fill-opacity="0.66"/>
<circle cx="260.91" cy="220.33" r="1.3" fill="#333333" fill-opacity="0.66"/>
<circle cx="255.47" cy="214.45" r="1.3" fill="#333333" fill-opacity="0.66"/>
<circle cx="259.16" cy="216.15" r="1.3" fill="#333333" fill-opacity="0.66"/>
<circle cx="257.85" cy="220.99" r="1.3" fill="#333333" fill-opacity="0.66"/>
<circle cx="255.90" cy="212.83" r="1.3" fill="#333333" fill-opacity="0.66"/>
<circle cx="261.20" cy="219.20" r="1.3" fill="#333333" fill-opacity="0.66"/>
<circle cx="261.20" cy="215.67" r="1.3" fill="#333333" fill-opacity="0.66"/>
<circle cx="261.65" cy="219.47" r="1.3" fill="#333333" fill-opacity="0.66"/>
<circle cx="258.11" cy="215.33" r="1.3" fill="#333333" fill-opacity="0.66"/>
<circle cx="262.51" cy="218.68" r="1.3" fill="#333333" fill-opacity="0.66"/>
<circle cx="258.64" cy="217.23" r="1.3" fill="#333333" fill-opacity="0.66"/>
<circle cx="262.21" cy="213.31" r="1.3" fill="#333333" fill-opacity="0.66"/>
<circle cx="260.30" cy="209.88" r="1.3" fill="#333333" fill-opacity="0.66"/>
<circle cx="259.96" cy="213.96" r="1.3" fill="#333333" fill-opacity="0.66"/>
<circle cx="255.94" cy="214.51" r="1.3" fill="#333333" fill-opacity="0.66"/>
<circle cx="263.25" cy="218.84" r="1.3" fill="#333333" fill-opacity="0.66"/>
<circle cx="261.13" cy="209.99" r="1.3" fill="#333333" fill-opacity="0.66"/>
<circle cx="261.18" cy="213.46" r="1.3" fill="#333333" fill-opacity="0.66"/>
<circle cx="258.82" cy="218.09" r="1.3" fill="#333333" fill-opacity="0.66"/>
<circle cx="269.34" cy="159.50" r="1.3" fill="#333333" fill-opacity="0.66"/>
<circle cx="268.80" cy="156.23" r="1.3" fill="#333333" fill-opacity="0.66"/>
<circle cx="273.31" cy="148.06" r="1.3" fill="#333333" fill-opacity="0.66"/>
<circle cx="275.48" cy="153.94" r="1.3" fill="#333333" fill-opacity="0.66"/>
<circle cx="274.65" cy="163.25" r="1.3" fill="#333333" fill-opacity="0.66"/>
<circle cx="271.06" cy="143.25" r="1.3" fill="#333333" fill-opacity="0.66"/>
<circle cx="271.51" cy="157.92" r="1.3" fill="#333333" fill-opacity="0.66"/>
<circle cx="270.53" cy="146.73" r="1.3" fill="#333333" fill-opacity="0.66"/>
<circle cx="277.56" cy="157.52" r="1.3" fill="#333333" fill-opacity="0.66"/>
<circle cx="272.92" cy="162.62" r="1.3" fill="#333333" fill-opacity="0.66"/>
<circle cx="271.77" cy="157.65" r="1.3" fill="#333333" fill-opacity="0.66"/>
<circle cx="270.49" cy="152.48" r="1.3" fill="#333333" fill-opacity="0.66"/>
<circle cx="276.56" cy="163.11" r="1.3" fill="#333333" fill-opacity="0.66"/>
<circle cx="277.30" cy="171.15" r="1.3" fill="#333333" fill-opacity="0.66"/>
<circle cx="274.33" cy="170.06" r="1.3" fill="#333333" fill-opacity="0.66"/>
<circle cx="269.86" cy="172.94" r="1.3" fill="#333333" fill-opacity="0.66"/>
<circle cx="276.87" cy="178.58" r="1.3" fill="#333333" fill-opacity="0.66"/>
<circle cx="275.61" cy="180.20" r="1.3" fill="#333333" fill-opacity="0.66"/>
<circle cx="271.27" cy="167.71" r="1.3" fill="#333333" fill-opacity="0.66"/>
<circle cx="273.01" cy="169.40" r="1.3" fill="#333333" fill-opacity="0.66"/>
<circle cx="270.64" cy="171.62" r="1.3" fill="#333333" fill-opacity="0.66"/>
<circle cx="274.76" cy="172.90" r="1.3" fill="#333333" fill-opacity="0.66"/>
<circle cx="271.65" cy="178.43" r="1.3" fill="#333333" fill-opacity="0.66"/>
<circle cx="278.32" cy="172.24" r="1.3" fill="#333333" fill-opacity="0.66"/>
<circle cx="269.25" cy="165.50" r="1.3" fill="#333333" fill-opacity="0.66"/>
<circle cx="277.23" cy="165.66" r="1.3" fill="#333333" fill-opacity="0.66"/>
<circle cx="275.59" cy="174.13" r="1.3" fill="#333333" fill-opacity="0.66"/>
<circle cx="271.59" cy="177.66" r="1.3" fill="#333333" fill-opacity="0.66"/>
<circle cx="268.69" cy="167.17" r="1.3" fill="#333333" fill-opacity="0.66"/>
<circle cx="273.05" cy="165.40" r="1.3" fill="#333333" fill-opacity="0.66"/>
<circle cx="276.80" cy="168.80" r="1.3" fill="#333333" fill-opacity="0.66"/>
<circle cx="269.91" cy="165.75" r="1.3" fill="#333333" fill-opacity="0.66"/>
<circle cx="274.79" cy="172.14" r="1.3" fill="#333333" fill-opacity="0.66"/>
<circle cx="274.80" cy="175.48" r="1.3" fill="#333333" fill-opacity="0.66"/>
<circle cx="276.57" cy="202.09" r="1.3" fill="#333333" fill-opacity="0.66"/>
<circle cx="275.34" cy="185.39" r="1.3" fill="#333333" fill-opacity="0.66"/>
<circle cx="273.25" cy="184.93" r="1.3" fill="#333333" fill-opacity="0.66"/>
<circle cx="268.61" cy="191.39" r="1.3" fill="#333333" fill-opacity="0.66"/>
<circle cx="275.64" cy="184.94" r="1.3" fill="#333333" fill-opacity="0.66"/>
<circle cx="271.22" cy="188.61" r="1.3" fill="#333333" fill-opacity="0.66"/>
<circle cx="275.47" cy="192.45" r="1.3" fill="#333333" fill-opacity="0.66"/>
<circle cx="274.64" cy="197.64" r="1.3" fill="#333333" fill-opacity="0.66"/>
<circle cx="272.44" cy="198.42" r="1.3" fill="#333333" fill-opacity="0.66"/>
<circle cx="277.56" cy="182.92" r="1.3" fill="#333333" fill-opacity="0.66"/>
<circle cx="276.90" cy="212.80" r="1.3" fill="#333333" fill-opacity="0.66"/>
<line x1="253.70" y1="179.80" x2="264.90" y2="179.80" stroke="#111" stroke-width="0.9"/>
<line x1="267.90" y1="171.60" x2="279.10" y2="171.60" stroke="#111" stroke-width="0.9"/>
<line x1="250.60" y1="141.50" x2="250.60" y2="221.80" stroke="#222" stroke-width="0.8"/>
<line x1="250.20" y1="221.80" x2="282.00" y2="221.80" stroke="#222" stroke-width="0.8"/>
<line x1="249.00" y1="218.30" x2="250.60" y2="218.30" stroke="#222" stroke-width="0.5"/>
<text transform="translate(248.10 218.30) rotate(0)" x="0" y="2.16" font-size="6.0" text-anchor="end" fill="#4d4d4d" color="#4d4d4d" font-weight="normal">2.0</text>
<line x1="249.00" y1="198.60" x2="250.60" y2="198.60" stroke="#222" stroke-width="0.5"/>
<text transform="translate(248.10 198.60) rotate(0)" x="0" y="2.16" font-size="6.0" text-anchor="end" fill="#4d4d4d" color="#4d4d4d" font-weight="normal">4.0</text>
<line x1="249.00" y1="178.90" x2="250.60" y2="178.90" stroke="#222" stroke-width="0.5"/>
<text transform="translate(248.10 178.90) rotate(0)" x="0" y="2.16" font-size="6.0" text-anchor="end" fill="#4d4d4d" color="#4d4d4d" font-weight="normal">6.0</text>
<line x1="249.00" y1="159.30" x2="250.60" y2="159.30" stroke="#222" stroke-width="0.5"/>
<text transform="translate(248.10 159.30) rotate(0)" x="0" y="2.16" font-size="6.0" text-anchor="end" fill="#4d4d4d" color="#4d4d4d" font-weight="normal">8.0</text>
<text transform="translate(266.90 134.50) rotate(0)" x="0" y="1.50" font-size="4.8" text-anchor="middle" fill="#1a1a1a" color="#1a1a1a" font-weight="normal">adj p = 0.0006</text>
<text transform="translate(234.50 181.60) rotate(-90)" x="0" y="2.27" font-size="6.3" text-anchor="middle" fill="#1a1a1a" color="#1a1a1a" font-weight="normal">CCL11</text>
<line x1="259.30" y1="221.80" x2="259.30" y2="223.40" stroke="#222" stroke-width="0.5"/>
<text transform="translate(260.00 236.00) rotate(-45)" x="0" y="2.00" font-size="6.0" text-anchor="middle" fill="#333" color="#333" font-weight="normal">ACPA neg</text>
<line x1="273.50" y1="221.80" x2="273.50" y2="223.40" stroke="#222" stroke-width="0.5"/>
<text transform="translate(274.20 236.00) rotate(-45)" x="0" y="2.00" font-size="6.0" text-anchor="middle" fill="#333" color="#333" font-weight="normal">ACPA pos</text>
<line x1="317.10" y1="153.00" x2="317.10" y2="173.00" stroke="#222" stroke-width="0.65"/>
<line x1="317.10" y1="186.50" x2="317.10" y2="197.00" stroke="#222" stroke-width="0.65"/>
<rect x="311.80" y="173.00" width="10.60" height="13.50" fill="#fff" stroke="#222" stroke-width="0.5"/>
<line x1="330.30" y1="145.50" x2="330.30" y2="158.00" stroke="#222" stroke-width="0.65"/>
<line x1="330.30" y1="179.60" x2="330.30" y2="196.30" stroke="#222" stroke-width="0.65"/>
<rect x="325.00" y="158.00" width="10.60" height="21.60" fill="#fff" stroke="#222" stroke-width="0.5"/>
<circle cx="321.43" cy="162.11" r="1.3" fill="#333333" fill-opacity="0.66"/>
<circle cx="313.40" cy="158.35" r="1.3" fill="#333333" fill-opacity="0.66"/>
<circle cx="318.36" cy="164.74" r="1.3" fill="#333333" fill-opacity="0.66"/>
<circle cx="315.87" cy="159.96" r="1.3" fill="#333333" fill-opacity="0.66"/>
<circle cx="320.89" cy="163.15" r="1.3" fill="#333333" fill-opacity="0.66"/>
<circle cx="321.54" cy="158.49" r="1.3" fill="#333333" fill-opacity="0.66"/>
<circle cx="318.61" cy="154.87" r="1.3" fill="#333333" fill-opacity="0.66"/>
<circle cx="319.32" cy="163.46" r="1.3" fill="#333333" fill-opacity="0.66"/>
<circle cx="318.52" cy="162.05" r="1.3" fill="#333333" fill-opacity="0.66"/>
<circle cx="314.23" cy="164.60" r="1.3" fill="#333333" fill-opacity="0.66"/>
<circle cx="321.90" cy="165.68" r="1.3" fill="#333333" fill-opacity="0.66"/>
<circle cx="317.47" cy="163.07" r="1.3" fill="#333333" fill-opacity="0.66"/>
<circle cx="315.30" cy="164.74" r="1.3" fill="#333333" fill-opacity="0.66"/>
<circle cx="320.66" cy="174.36" r="1.3" fill="#333333" fill-opacity="0.66"/>
<circle cx="312.93" cy="176.58" r="1.3" fill="#333333" fill-opacity="0.66"/>
<circle cx="317.60" cy="184.44" r="1.3" fill="#333333" fill-opacity="0.66"/>
<circle cx="316.97" cy="166.68" r="1.3" fill="#333333" fill-opacity="0.66"/>
<circle cx="320.19" cy="167.54" r="1.3" fill="#333333" fill-opacity="0.66"/>
<circle cx="320.10" cy="170.15" r="1.3" fill="#333333" fill-opacity="0.66"/>
<circle cx="315.45" cy="184.91" r="1.3" fill="#333333" fill-opacity="0.66"/>
<circle cx="313.51" cy="169.57" r="1.3" fill="#333333" fill-opacity="0.66"/>
<circle cx="317.27" cy="183.37" r="1.3" fill="#333333" fill-opacity="0.66"/>
<circle cx="320.50" cy="182.54" r="1.3" fill="#333333" fill-opacity="0.66"/>
<circle cx="321.56" cy="177.82" r="1.3" fill="#333333" fill-opacity="0.66"/>
<circle cx="321.59" cy="168.06" r="1.3" fill="#333333" fill-opacity="0.66"/>
<circle cx="314.31" cy="178.64" r="1.3" fill="#333333" fill-opacity="0.66"/>
<circle cx="315.00" cy="183.49" r="1.3" fill="#333333" fill-opacity="0.66"/>
<circle cx="318.49" cy="178.55" r="1.3" fill="#333333" fill-opacity="0.66"/>
<circle cx="320.54" cy="179.44" r="1.3" fill="#333333" fill-opacity="0.66"/>
<circle cx="315.22" cy="175.15" r="1.3" fill="#333333" fill-opacity="0.66"/>
<circle cx="320.55" cy="187.61" r="1.3" fill="#333333" fill-opacity="0.66"/>
<circle cx="314.18" cy="186.42" r="1.3" fill="#333333" fill-opacity="0.66"/>
<circle cx="321.78" cy="178.58" r="1.3" fill="#333333" fill-opacity="0.66"/>
<circle cx="317.83" cy="170.82" r="1.3" fill="#333333" fill-opacity="0.66"/>
<circle cx="317.46" cy="178.08" r="1.3" fill="#333333" fill-opacity="0.66"/>
<circle cx="318.15" cy="166.67" r="1.3" fill="#333333" fill-opacity="0.66"/>
<circle cx="321.79" cy="178.38" r="1.3" fill="#333333" fill-opacity="0.66"/>
<circle cx="316.11" cy="185.23" r="1.3" fill="#333333" fill-opacity="0.66"/>
<circle cx="317.73" cy="177.78" r="1.3" fill="#333333" fill-opacity="0.66"/>
<circle cx="319.01" cy="167.58" r="1.3" fill="#333333" fill-opacity="0.66"/>
<circle cx="317.49" cy="175.93" r="1.3" fill="#333333" fill-opacity="0.66"/>
<circle cx="321.67" cy="188.16" r="1.3" fill="#333333" fill-opacity="0.66"/>
<circle cx="314.79" cy="177.36" r="1.3" fill="#333333" fill-opacity="0.66"/>
<circle cx="313.37" cy="176.41" r="1.3" fill="#333333" fill-opacity="0.66"/>
<circle cx="320.26" cy="187.61" r="1.3" fill="#333333" fill-opacity="0.66"/>
<circle cx="316.87" cy="173.61" r="1.3" fill="#333333" fill-opacity="0.66"/>
<circle cx="314.01" cy="180.83" r="1.3" fill="#333333" fill-opacity="0.66"/>
<circle cx="321.35" cy="169.11" r="1.3" fill="#333333" fill-opacity="0.66"/>
<circle cx="319.89" cy="166.55" r="1.3" fill="#333333" fill-opacity="0.66"/>
<circle cx="314.04" cy="171.45" r="1.3" fill="#333333" fill-opacity="0.66"/>
<circle cx="318.97" cy="173.73" r="1.3" fill="#333333" fill-opacity="0.66"/>
<circle cx="315.65" cy="180.87" r="1.3" fill="#333333" fill-opacity="0.66"/>
<circle cx="313.15" cy="183.54" r="1.3" fill="#333333" fill-opacity="0.66"/>
<circle cx="313.33" cy="178.25" r="1.3" fill="#333333" fill-opacity="0.66"/>
<circle cx="314.61" cy="170.75" r="1.3" fill="#333333" fill-opacity="0.66"/>
<circle cx="317.40" cy="176.48" r="1.3" fill="#333333" fill-opacity="0.66"/>
<circle cx="315.86" cy="175.92" r="1.3" fill="#333333" fill-opacity="0.66"/>
<circle cx="317.39" cy="169.83" r="1.3" fill="#333333" fill-opacity="0.66"/>
<circle cx="314.14" cy="181.15" r="1.3" fill="#333333" fill-opacity="0.66"/>
<circle cx="318.48" cy="178.71" r="1.3" fill="#333333" fill-opacity="0.66"/>
<circle cx="320.61" cy="180.68" r="1.3" fill="#333333" fill-opacity="0.66"/>
<circle cx="320.67" cy="171.58" r="1.3" fill="#333333" fill-opacity="0.66"/>
<circle cx="319.51" cy="185.45" r="1.3" fill="#333333" fill-opacity="0.66"/>
<circle cx="321.13" cy="173.58" r="1.3" fill="#333333" fill-opacity="0.66"/>
<circle cx="315.25" cy="188.15" r="1.3" fill="#333333" fill-opacity="0.66"/>
<circle cx="314.28" cy="189.96" r="1.3" fill="#333333" fill-opacity="0.66"/>
<circle cx="320.98" cy="169.21" r="1.3" fill="#333333" fill-opacity="0.66"/>
<circle cx="314.49" cy="183.44" r="1.3" fill="#333333" fill-opacity="0.66"/>
<circle cx="314.69" cy="168.33" r="1.3" fill="#333333" fill-opacity="0.66"/>
<circle cx="320.42" cy="176.12" r="1.3" fill="#333333" fill-opacity="0.66"/>
<circle cx="320.00" cy="169.02" r="1.3" fill="#333333" fill-opacity="0.66"/>
<circle cx="316.13" cy="182.45" r="1.3" fill="#333333" fill-opacity="0.66"/>
<circle cx="312.28" cy="170.82" r="1.3" fill="#333333" fill-opacity="0.66"/>
<circle cx="318.92" cy="187.87" r="1.3" fill="#333333" fill-opacity="0.66"/>
<circle cx="321.78" cy="168.77" r="1.3" fill="#333333" fill-opacity="0.66"/>
<circle cx="317.16" cy="196.82" r="1.3" fill="#333333" fill-opacity="0.66"/>
<circle cx="317.13" cy="196.17" r="1.3" fill="#333333" fill-opacity="0.66"/>
<circle cx="313.99" cy="190.63" r="1.3" fill="#333333" fill-opacity="0.66"/>
<circle cx="313.16" cy="190.34" r="1.3" fill="#333333" fill-opacity="0.66"/>
<circle cx="317.62" cy="194.63" r="1.3" fill="#333333" fill-opacity="0.66"/>
<circle cx="317.79" cy="191.32" r="1.3" fill="#333333" fill-opacity="0.66"/>
<circle cx="313.95" cy="191.84" r="1.3" fill="#333333" fill-opacity="0.66"/>
<circle cx="320.50" cy="198.91" r="1.3" fill="#333333" fill-opacity="0.66"/>
<circle cx="321.37" cy="190.86" r="1.3" fill="#333333" fill-opacity="0.66"/>
<circle cx="312.72" cy="198.56" r="1.3" fill="#333333" fill-opacity="0.66"/>
<circle cx="316.72" cy="196.88" r="1.3" fill="#333333" fill-opacity="0.66"/>
<circle cx="315.37" cy="194.20" r="1.3" fill="#333333" fill-opacity="0.66"/>
<circle cx="317.25" cy="193.87" r="1.3" fill="#333333" fill-opacity="0.66"/>
<circle cx="318.11" cy="190.12" r="1.3" fill="#333333" fill-opacity="0.66"/>
<circle cx="312.60" cy="217.80" r="1.3" fill="#333333" fill-opacity="0.66"/>
<circle cx="332.31" cy="155.82" r="1.3" fill="#333333" fill-opacity="0.66"/>
<circle cx="327.11" cy="150.36" r="1.3" fill="#333333" fill-opacity="0.66"/>
<circle cx="332.69" cy="149.67" r="1.3" fill="#333333" fill-opacity="0.66"/>
<circle cx="327.25" cy="146.31" r="1.3" fill="#333333" fill-opacity="0.66"/>
<circle cx="330.43" cy="144.22" r="1.3" fill="#333333" fill-opacity="0.66"/>
<circle cx="334.23" cy="155.22" r="1.3" fill="#333333" fill-opacity="0.66"/>
<circle cx="332.35" cy="156.05" r="1.3" fill="#333333" fill-opacity="0.66"/>
<circle cx="331.59" cy="149.66" r="1.3" fill="#333333" fill-opacity="0.66"/>
<circle cx="331.30" cy="151.06" r="1.3" fill="#333333" fill-opacity="0.66"/>
<circle cx="335.13" cy="155.27" r="1.3" fill="#333333" fill-opacity="0.66"/>
<circle cx="327.88" cy="178.05" r="1.3" fill="#333333" fill-opacity="0.66"/>
<circle cx="332.74" cy="175.12" r="1.3" fill="#333333" fill-opacity="0.66"/>
<circle cx="333.45" cy="166.92" r="1.3" fill="#333333" fill-opacity="0.66"/>
<circle cx="334.27" cy="177.36" r="1.3" fill="#333333" fill-opacity="0.66"/>
<circle cx="332.25" cy="174.88" r="1.3" fill="#333333" fill-opacity="0.66"/>
<circle cx="332.95" cy="166.93" r="1.3" fill="#333333" fill-opacity="0.66"/>
<circle cx="332.53" cy="159.55" r="1.3" fill="#333333" fill-opacity="0.66"/>
<circle cx="328.72" cy="168.31" r="1.3" fill="#333333" fill-opacity="0.66"/>
<circle cx="325.41" cy="165.82" r="1.3" fill="#333333" fill-opacity="0.66"/>
<circle cx="331.69" cy="171.73" r="1.3" fill="#333333" fill-opacity="0.66"/>
<circle cx="327.62" cy="178.78" r="1.3" fill="#333333" fill-opacity="0.66"/>
<circle cx="331.96" cy="165.43" r="1.3" fill="#333333" fill-opacity="0.66"/>
<circle cx="331.90" cy="170.53" r="1.3" fill="#333333" fill-opacity="0.66"/>
<circle cx="330.63" cy="166.57" r="1.3" fill="#333333" fill-opacity="0.66"/>
<circle cx="335.30" cy="172.13" r="1.3" fill="#333333" fill-opacity="0.66"/>
<circle cx="332.31" cy="174.76" r="1.3" fill="#333333" fill-opacity="0.66"/>
<circle cx="335.10" cy="158.50" r="1.3" fill="#333333" fill-opacity="0.66"/>
<circle cx="331.45" cy="174.25" r="1.3" fill="#333333" fill-opacity="0.66"/>
<circle cx="327.87" cy="166.83" r="1.3" fill="#333333" fill-opacity="0.66"/>
<circle cx="325.80" cy="162.30" r="1.3" fill="#333333" fill-opacity="0.66"/>
<circle cx="329.06" cy="160.17" r="1.3" fill="#333333" fill-opacity="0.66"/>
<circle cx="327.81" cy="177.92" r="1.3" fill="#333333" fill-opacity="0.66"/>
<circle cx="330.80" cy="169.17" r="1.3" fill="#333333" fill-opacity="0.66"/>
<circle cx="334.97" cy="170.50" r="1.3" fill="#333333" fill-opacity="0.66"/>
<circle cx="335.25" cy="172.04" r="1.3" fill="#333333" fill-opacity="0.66"/>
<circle cx="333.40" cy="159.68" r="1.3" fill="#333333" fill-opacity="0.66"/>
<circle cx="331.28" cy="192.91" r="1.3" fill="#333333" fill-opacity="0.66"/>
<circle cx="325.75" cy="195.81" r="1.3" fill="#333333" fill-opacity="0.66"/>
<circle cx="326.90" cy="188.02" r="1.3" fill="#333333" fill-opacity="0.66"/>
<circle cx="326.99" cy="188.42" r="1.3" fill="#333333" fill-opacity="0.66"/>
<circle cx="331.41" cy="181.00" r="1.3" fill="#333333" fill-opacity="0.66"/>
<circle cx="334.75" cy="187.15" r="1.3" fill="#333333" fill-opacity="0.66"/>
<circle cx="330.57" cy="190.16" r="1.3" fill="#333333" fill-opacity="0.66"/>
<circle cx="328.96" cy="184.86" r="1.3" fill="#333333" fill-opacity="0.66"/>
<circle cx="331.85" cy="189.53" r="1.3" fill="#333333" fill-opacity="0.66"/>
<circle cx="328.14" cy="192.18" r="1.3" fill="#333333" fill-opacity="0.66"/>
<line x1="311.80" y1="178.40" x2="322.40" y2="178.40" stroke="#111" stroke-width="0.9"/>
<line x1="325.00" y1="169.30" x2="335.60" y2="169.30" stroke="#111" stroke-width="0.9"/>
<line x1="309.30" y1="141.50" x2="309.30" y2="221.80" stroke="#222" stroke-width="0.8"/>
<line x1="308.90" y1="221.80" x2="338.10" y2="221.80" stroke="#222" stroke-width="0.8"/>
<line x1="307.70" y1="203.40" x2="309.30" y2="203.40" stroke="#222" stroke-width="0.5"/>
<text transform="translate(306.80 203.40) rotate(0)" x="0" y="2.16" font-size="6.0" text-anchor="end" fill="#4d4d4d" color="#4d4d4d" font-weight="normal">-4.0</text>
<line x1="307.70" y1="181.90" x2="309.30" y2="181.90" stroke="#222" stroke-width="0.5"/>
<text transform="translate(306.80 181.90) rotate(0)" x="0" y="2.16" font-size="6.0" text-anchor="end" fill="#4d4d4d" color="#4d4d4d" font-weight="normal">0.0</text>
<line x1="307.70" y1="160.20" x2="309.30" y2="160.20" stroke="#222" stroke-width="0.5"/>
<text transform="translate(306.80 160.20) rotate(0)" x="0" y="2.16" font-size="6.0" text-anchor="end" fill="#4d4d4d" color="#4d4d4d" font-weight="normal">4.0</text>
<text transform="translate(324.20 134.50) rotate(0)" x="0" y="1.50" font-size="4.8" text-anchor="middle" fill="#1a1a1a" color="#1a1a1a" font-weight="normal">adj p = 0.003</text>
<text transform="translate(291.10 181.60) rotate(-90)" x="0" y="2.27" font-size="6.3" text-anchor="middle" fill="#1a1a1a" color="#1a1a1a" font-weight="normal">IFNG</text>
<line x1="317.10" y1="221.80" x2="317.10" y2="223.40" stroke="#222" stroke-width="0.5"/>
<text transform="translate(317.80 236.00) rotate(-45)" x="0" y="2.00" font-size="6.0" text-anchor="middle" fill="#333" color="#333" font-weight="normal">ACPA neg</text>
<line x1="330.30" y1="221.80" x2="330.30" y2="223.40" stroke="#222" stroke-width="0.5"/>
<text transform="translate(331.00 236.00) rotate(-45)" x="0" y="2.00" font-size="6.0" text-anchor="middle" fill="#333" color="#333" font-weight="normal">ACPA pos</text>
<line x1="259.40" y1="275.30" x2="259.40" y2="303.80" stroke="#222" stroke-width="0.65"/>
<line x1="259.40" y1="321.40" x2="259.40" y2="339.60" stroke="#222" stroke-width="0.65"/>
<rect x="253.80" y="303.80" width="11.20" height="17.60" fill="#fff" stroke="#222" stroke-width="0.5"/>
<line x1="273.60" y1="265.80" x2="273.60" y2="283.00" stroke="#222" stroke-width="0.65"/>
<line x1="273.60" y1="319.50" x2="273.60" y2="328.70" stroke="#222" stroke-width="0.65"/>
<rect x="268.00" y="283.00" width="11.20" height="36.50" fill="#fff" stroke="#222" stroke-width="0.5"/>
<circle cx="257.36" cy="274.36" r="1.3" fill="#333333" fill-opacity="0.66"/>
<circle cx="256.85" cy="275.11" r="1.3" fill="#333333" fill-opacity="0.66"/>
<circle cx="255.97" cy="293.62" r="1.3" fill="#333333" fill-opacity="0.66"/>
<circle cx="258.30" cy="297.34" r="1.3" fill="#333333" fill-opacity="0.66"/>
<circle cx="261.88" cy="275.30" r="1.3" fill="#333333" fill-opacity="0.66"/>
<circle cx="264.29" cy="298.56" r="1.3" fill="#333333" fill-opacity="0.66"/>
<circle cx="255.14" cy="297.54" r="1.3" fill="#333333" fill-opacity="0.66"/>
<circle cx="258.70" cy="286.42" r="1.3" fill="#333333" fill-opacity="0.66"/>
<circle cx="264.13" cy="280.34" r="1.3" fill="#333333" fill-opacity="0.66"/>
<circle cx="259.63" cy="298.37" r="1.3" fill="#333333" fill-opacity="0.66"/>
<circle cx="261.63" cy="286.18" r="1.3" fill="#333333" fill-opacity="0.66"/>
<circle cx="264.19" cy="295.23" r="1.3" fill="#333333" fill-opacity="0.66"/>
<circle cx="260.44" cy="276.99" r="1.3" fill="#333333" fill-opacity="0.66"/>
<circle cx="260.64" cy="285.85" r="1.3" fill="#333333" fill-opacity="0.66"/>
<circle cx="256.44" cy="275.35" r="1.3" fill="#333333" fill-opacity="0.66"/>
<circle cx="259.68" cy="277.23" r="1.3" fill="#333333" fill-opacity="0.66"/>
<circle cx="258.81" cy="314.69" r="1.3" fill="#333333" fill-opacity="0.66"/>
<circle cx="258.94" cy="305.77" r="1.3" fill="#333333" fill-opacity="0.66"/>
<circle cx="260.26" cy="309.23" r="1.3" fill="#333333" fill-opacity="0.66"/>
<circle cx="262.29" cy="311.68" r="1.3" fill="#333333" fill-opacity="0.66"/>
<circle cx="264.58" cy="320.96" r="1.3" fill="#333333" fill-opacity="0.66"/>
<circle cx="261.84" cy="305.25" r="1.3" fill="#333333" fill-opacity="0.66"/>
<circle cx="255.38" cy="319.64" r="1.3" fill="#333333" fill-opacity="0.66"/>
<circle cx="262.36" cy="313.75" r="1.3" fill="#333333" fill-opacity="0.66"/>
<circle cx="257.94" cy="305.97" r="1.3" fill="#333333" fill-opacity="0.66"/>
<circle cx="261.32" cy="312.43" r="1.3" fill="#333333" fill-opacity="0.66"/>
<circle cx="260.35" cy="313.93" r="1.3" fill="#333333" fill-opacity="0.66"/>
<circle cx="262.03" cy="304.18" r="1.3" fill="#333333" fill-opacity="0.66"/>
<circle cx="256.79" cy="321.55" r="1.3" fill="#333333" fill-opacity="0.66"/>
<circle cx="263.72" cy="319.33" r="1.3" fill="#333333" fill-opacity="0.66"/>
<circle cx="254.61" cy="301.34" r="1.3" fill="#333333" fill-opacity="0.66"/>
<circle cx="257.02" cy="309.35" r="1.3" fill="#333333" fill-opacity="0.66"/>
<circle cx="260.68" cy="302.25" r="1.3" fill="#333333" fill-opacity="0.66"/>
<circle cx="259.83" cy="301.59" r="1.3" fill="#333333" fill-opacity="0.66"/>
<circle cx="255.10" cy="314.88" r="1.3" fill="#333333" fill-opacity="0.66"/>
<circle cx="259.93" cy="313.88" r="1.3" fill="#333333" fill-opacity="0.66"/>
<circle cx="258.08" cy="310.53" r="1.3" fill="#333333" fill-opacity="0.66"/>
<circle cx="256.39" cy="307.56" r="1.3" fill="#333333" fill-opacity="0.66"/>
<circle cx="261.95" cy="318.45" r="1.3" fill="#333333" fill-opacity="0.66"/>
<circle cx="254.97" cy="302.64" r="1.3" fill="#333333" fill-opacity="0.66"/>
<circle cx="262.62" cy="313.72" r="1.3" fill="#333333" fill-opacity="0.66"/>
<circle cx="262.20" cy="304.69" r="1.3" fill="#333333" fill-opacity="0.66"/>
<circle cx="258.61" cy="305.68" r="1.3" fill="#333333" fill-opacity="0.66"/>
<circle cx="262.62" cy="308.12" r="1.3" fill="#333333" fill-opacity="0.66"/>
<circle cx="261.00" cy="321.76" r="1.3" fill="#333333" fill-opacity="0.66"/>
<circle cx="257.58" cy="312.07" r="1.3" fill="#333333" fill-opacity="0.66"/>
<circle cx="261.96" cy="320.26" r="1.3" fill="#333333" fill-opacity="0.66"/>
<circle cx="258.65" cy="308.12" r="1.3" fill="#333333" fill-opacity="0.66"/>
<circle cx="255.21" cy="319.25" r="1.3" fill="#333333" fill-opacity="0.66"/>
<circle cx="255.02" cy="301.83" r="1.3" fill="#333333" fill-opacity="0.66"/>
<circle cx="260.07" cy="310.67" r="1.3" fill="#333333" fill-opacity="0.66"/>
<circle cx="261.33" cy="306.58" r="1.3" fill="#333333" fill-opacity="0.66"/>
<circle cx="262.27" cy="301.67" r="1.3" fill="#333333" fill-opacity="0.66"/>
<circle cx="256.42" cy="314.57" r="1.3" fill="#333333" fill-opacity="0.66"/>
<circle cx="255.05" cy="306.68" r="1.3" fill="#333333" fill-opacity="0.66"/>
<circle cx="261.74" cy="315.27" r="1.3" fill="#333333" fill-opacity="0.66"/>
<circle cx="257.14" cy="303.14" r="1.3" fill="#333333" fill-opacity="0.66"/>
<circle cx="257.92" cy="315.97" r="1.3" fill="#333333" fill-opacity="0.66"/>
<circle cx="258.01" cy="302.58" r="1.3" fill="#333333" fill-opacity="0.66"/>
<circle cx="261.58" cy="312.52" r="1.3" fill="#333333" fill-opacity="0.66"/>
<circle cx="263.75" cy="320.68" r="1.3" fill="#333333" fill-opacity="0.66"/>
<circle cx="263.70" cy="309.64" r="1.3" fill="#333333" fill-opacity="0.66"/>
<circle cx="262.55" cy="306.70" r="1.3" fill="#333333" fill-opacity="0.66"/>
<circle cx="257.50" cy="308.79" r="1.3" fill="#333333" fill-opacity="0.66"/>
<circle cx="263.92" cy="319.68" r="1.3" fill="#333333" fill-opacity="0.66"/>
<circle cx="256.78" cy="307.96" r="1.3" fill="#333333" fill-opacity="0.66"/>
<circle cx="258.06" cy="325.63" r="1.3" fill="#333333" fill-opacity="0.66"/>
<circle cx="258.36" cy="325.88" r="1.3" fill="#333333" fill-opacity="0.66"/>
<circle cx="256.35" cy="327.64" r="1.3" fill="#333333" fill-opacity="0.66"/>
<circle cx="262.37" cy="327.41" r="1.3" fill="#333333" fill-opacity="0.66"/>
<circle cx="262.76" cy="327.63" r="1.3" fill="#333333" fill-opacity="0.66"/>
<circle cx="256.17" cy="329.59" r="1.3" fill="#333333" fill-opacity="0.66"/>
<circle cx="263.21" cy="324.81" r="1.3" fill="#333333" fill-opacity="0.66"/>
<circle cx="254.62" cy="327.16" r="1.3" fill="#333333" fill-opacity="0.66"/>
<circle cx="259.84" cy="327.67" r="1.3" fill="#333333" fill-opacity="0.66"/>
<circle cx="264.06" cy="328.51" r="1.3" fill="#333333" fill-opacity="0.66"/>
<circle cx="262.44" cy="322.64" r="1.3" fill="#333333" fill-opacity="0.66"/>
<circle cx="259.87" cy="329.88" r="1.3" fill="#333333" fill-opacity="0.66"/>
<circle cx="255.24" cy="322.82" r="1.3" fill="#333333" fill-opacity="0.66"/>
<circle cx="261.77" cy="330.99" r="1.3" fill="#333333" fill-opacity="0.66"/>
<circle cx="255.25" cy="328.34" r="1.3" fill="#333333" fill-opacity="0.66"/>
<circle cx="255.84" cy="329.46" r="1.3" fill="#333333" fill-opacity="0.66"/>
<circle cx="260.89" cy="324.45" r="1.3" fill="#333333" fill-opacity="0.66"/>
<circle cx="256.60" cy="329.65" r="1.3" fill="#333333" fill-opacity="0.66"/>
<circle cx="259.62" cy="329.65" r="1.3" fill="#333333" fill-opacity="0.66"/>
<circle cx="258.34" cy="325.38" r="1.3" fill="#333333" fill-opacity="0.66"/>
<circle cx="264.08" cy="328.72" r="1.3" fill="#333333" fill-opacity="0.66"/>
<circle cx="259.34" cy="327.37" r="1.3" fill="#333333" fill-opacity="0.66"/>
<circle cx="261.17" cy="338.37" r="1.3" fill="#333333" fill-opacity="0.66"/>
<circle cx="262.72" cy="335.70" r="1.3" fill="#333333" fill-opacity="0.66"/>
<circle cx="262.01" cy="338.00" r="1.3" fill="#333333" fill-opacity="0.66"/>
<circle cx="262.23" cy="339.25" r="1.3" fill="#333333" fill-opacity="0.66"/>
<circle cx="262.07" cy="340.00" r="1.3" fill="#333333" fill-opacity="0.66"/>
<circle cx="263.06" cy="337.76" r="1.3" fill="#333333" fill-opacity="0.66"/>
<circle cx="259.59" cy="338.39" r="1.3" fill="#333333" fill-opacity="0.66"/>
<circle cx="261.82" cy="335.79" r="1.3" fill="#333333" fill-opacity="0.66"/>
<circle cx="272.80" cy="267.63" r="1.3" fill="#333333" fill-opacity="0.66"/>
<circle cx="276.01" cy="282.84" r="1.3" fill="#333333" fill-opacity="0.66"/>
<circle cx="272.36" cy="268.02" r="1.3" fill="#333333" fill-opacity="0.66"/>
<circle cx="270.64" cy="272.65" r="1.3" fill="#333333" fill-opacity="0.66"/>
<circle cx="271.52" cy="282.46" r="1.3" fill="#333333" fill-opacity="0.66"/>
<circle cx="269.19" cy="270.55" r="1.3" fill="#333333" fill-opacity="0.66"/>
<circle cx="269.75" cy="276.66" r="1.3" fill="#333333" fill-opacity="0.66"/>
<circle cx="276.36" cy="268.23" r="1.3" fill="#333333" fill-opacity="0.66"/>
<circle cx="269.22" cy="273.26" r="1.3" fill="#333333" fill-opacity="0.66"/>
<circle cx="274.44" cy="281.37" r="1.3" fill="#333333" fill-opacity="0.66"/>
<circle cx="268.96" cy="284.85" r="1.3" fill="#333333" fill-opacity="0.66"/>
<circle cx="270.45" cy="286.70" r="1.3" fill="#333333" fill-opacity="0.66"/>
<circle cx="270.95" cy="295.19" r="1.3" fill="#333333" fill-opacity="0.66"/>
<circle cx="274.55" cy="286.81" r="1.3" fill="#333333" fill-opacity="0.66"/>
<circle cx="270.45" cy="287.78" r="1.3" fill="#333333" fill-opacity="0.66"/>
<circle cx="270.33" cy="295.88" r="1.3" fill="#333333" fill-opacity="0.66"/>
<circle cx="271.72" cy="292.32" r="1.3" fill="#333333" fill-opacity="0.66"/>
<circle cx="276.77" cy="291.15" r="1.3" fill="#333333" fill-opacity="0.66"/>
<circle cx="271.20" cy="298.09" r="1.3" fill="#333333" fill-opacity="0.66"/>
<circle cx="277.74" cy="288.82" r="1.3" fill="#333333" fill-opacity="0.66"/>
<circle cx="274.07" cy="299.27" r="1.3" fill="#333333" fill-opacity="0.66"/>
<circle cx="273.43" cy="286.76" r="1.3" fill="#333333" fill-opacity="0.66"/>
<circle cx="269.10" cy="299.11" r="1.3" fill="#333333" fill-opacity="0.66"/>
<circle cx="276.61" cy="289.54" r="1.3" fill="#333333" fill-opacity="0.66"/>
<circle cx="273.88" cy="291.77" r="1.3" fill="#333333" fill-opacity="0.66"/>
<circle cx="271.35" cy="319.80" r="1.3" fill="#333333" fill-opacity="0.66"/>
<circle cx="275.18" cy="304.75" r="1.3" fill="#333333" fill-opacity="0.66"/>
<circle cx="268.71" cy="309.45" r="1.3" fill="#333333" fill-opacity="0.66"/>
<circle cx="272.32" cy="315.94" r="1.3" fill="#333333" fill-opacity="0.66"/>
<circle cx="275.73" cy="312.12" r="1.3" fill="#333333" fill-opacity="0.66"/>
<circle cx="270.17" cy="303.14" r="1.3" fill="#333333" fill-opacity="0.66"/>
<circle cx="271.82" cy="305.19" r="1.3" fill="#333333" fill-opacity="0.66"/>
<circle cx="277.29" cy="310.32" r="1.3" fill="#333333" fill-opacity="0.66"/>
<circle cx="274.97" cy="319.86" r="1.3" fill="#333333" fill-opacity="0.66"/>
<circle cx="271.27" cy="310.69" r="1.3" fill="#333333" fill-opacity="0.66"/>
<circle cx="270.11" cy="315.41" r="1.3" fill="#333333" fill-opacity="0.66"/>
<circle cx="268.61" cy="316.43" r="1.3" fill="#333333" fill-opacity="0.66"/>
<circle cx="277.06" cy="316.44" r="1.3" fill="#333333" fill-opacity="0.66"/>
<circle cx="269.42" cy="305.40" r="1.3" fill="#333333" fill-opacity="0.66"/>
<circle cx="275.77" cy="320.97" r="1.3" fill="#333333" fill-opacity="0.66"/>
<circle cx="273.40" cy="324.69" r="1.3" fill="#333333" fill-opacity="0.66"/>
<circle cx="278.15" cy="325.87" r="1.3" fill="#333333" fill-opacity="0.66"/>
<circle cx="277.17" cy="323.04" r="1.3" fill="#333333" fill-opacity="0.66"/>
<circle cx="276.49" cy="324.17" r="1.3" fill="#333333" fill-opacity="0.66"/>
<circle cx="277.77" cy="320.91" r="1.3" fill="#333333" fill-opacity="0.66"/>
<line x1="253.80" y1="315.20" x2="265.00" y2="315.20" stroke="#111" stroke-width="0.9"/>
<line x1="268.00" y1="298.40" x2="279.20" y2="298.40" stroke="#111" stroke-width="0.9"/>
<line x1="250.50" y1="263.00" x2="250.50" y2="343.20" stroke="#222" stroke-width="0.8"/>
<line x1="250.10" y1="343.20" x2="283.30" y2="343.20" stroke="#222" stroke-width="0.8"/>
<line x1="248.90" y1="329.30" x2="250.50" y2="329.30" stroke="#222" stroke-width="0.5"/>
<text transform="translate(248.00 329.30) rotate(0)" x="0" y="2.16" font-size="6.0" text-anchor="end" fill="#4d4d4d" color="#4d4d4d" font-weight="normal">3.0</text>
<line x1="248.90" y1="306.20" x2="250.50" y2="306.20" stroke="#222" stroke-width="0.5"/>
<text transform="translate(248.00 306.20) rotate(0)" x="0" y="2.16" font-size="6.0" text-anchor="end" fill="#4d4d4d" color="#4d4d4d" font-weight="normal">6.0</text>
<line x1="248.90" y1="283.20" x2="250.50" y2="283.20" stroke="#222" stroke-width="0.5"/>
<text transform="translate(248.00 283.20) rotate(0)" x="0" y="2.16" font-size="6.0" text-anchor="end" fill="#4d4d4d" color="#4d4d4d" font-weight="normal">9.0</text>
<text transform="translate(267.00 256.60) rotate(0)" x="0" y="1.50" font-size="4.8" text-anchor="middle" fill="#1a1a1a" color="#1a1a1a" font-weight="normal">adj p = 0.002</text>
<text transform="translate(235.10 303.00) rotate(-90)" x="0" y="2.27" font-size="6.3" text-anchor="middle" fill="#1a1a1a" color="#1a1a1a" font-weight="normal">IL1B</text>
<line x1="259.40" y1="343.20" x2="259.40" y2="344.80" stroke="#222" stroke-width="0.5"/>
<text transform="translate(260.10 357.40) rotate(-45)" x="0" y="2.00" font-size="6.0" text-anchor="middle" fill="#333" color="#333" font-weight="normal">ACPA neg</text>
<line x1="273.60" y1="343.20" x2="273.60" y2="344.80" stroke="#222" stroke-width="0.5"/>
<text transform="translate(274.30 357.40) rotate(-45)" x="0" y="2.00" font-size="6.0" text-anchor="middle" fill="#333" color="#333" font-weight="normal">ACPA pos</text>
<line x1="315.20" y1="286.00" x2="315.20" y2="303.80" stroke="#222" stroke-width="0.65"/>
<line x1="315.20" y1="321.40" x2="315.20" y2="339.10" stroke="#222" stroke-width="0.65"/>
<rect x="309.70" y="303.80" width="11.00" height="17.60" fill="#fff" stroke="#222" stroke-width="0.5"/>
<line x1="329.50" y1="267.20" x2="329.50" y2="287.00" stroke="#222" stroke-width="0.65"/>
<line x1="329.50" y1="317.90" x2="329.50" y2="326.80" stroke="#222" stroke-width="0.65"/>
<rect x="324.00" y="287.00" width="11.00" height="30.90" fill="#fff" stroke="#222" stroke-width="0.5"/>
<circle cx="318.46" cy="288.92" r="1.3" fill="#333333" fill-opacity="0.66"/>
<circle cx="315.63" cy="293.36" r="1.3" fill="#333333" fill-opacity="0.66"/>
<circle cx="311.78" cy="297.65" r="1.3" fill="#333333" fill-opacity="0.66"/>
<circle cx="313.31" cy="290.35" r="1.3" fill="#333333" fill-opacity="0.66"/>
<circle cx="310.96" cy="290.28" r="1.3" fill="#333333" fill-opacity="0.66"/>
<circle cx="314.87" cy="296.01" r="1.3" fill="#333333" fill-opacity="0.66"/>
<circle cx="313.80" cy="295.62" r="1.3" fill="#333333" fill-opacity="0.66"/>
<circle cx="311.26" cy="291.52" r="1.3" fill="#333333" fill-opacity="0.66"/>
<circle cx="314.80" cy="321.27" r="1.3" fill="#333333" fill-opacity="0.66"/>
<circle cx="318.63" cy="314.39" r="1.3" fill="#333333" fill-opacity="0.66"/>
<circle cx="310.13" cy="308.30" r="1.3" fill="#333333" fill-opacity="0.66"/>
<circle cx="317.38" cy="305.22" r="1.3" fill="#333333" fill-opacity="0.66"/>
<circle cx="315.87" cy="310.08" r="1.3" fill="#333333" fill-opacity="0.66"/>
<circle cx="310.11" cy="321.82" r="1.3" fill="#333333" fill-opacity="0.66"/>
<circle cx="318.31" cy="304.55" r="1.3" fill="#333333" fill-opacity="0.66"/>
<circle cx="316.41" cy="306.39" r="1.3" fill="#333333" fill-opacity="0.66"/>
<circle cx="313.91" cy="311.87" r="1.3" fill="#333333" fill-opacity="0.66"/>
<circle cx="313.10" cy="307.42" r="1.3" fill="#333333" fill-opacity="0.66"/>
<circle cx="314.08" cy="314.67" r="1.3" fill="#333333" fill-opacity="0.66"/>
<circle cx="312.67" cy="304.40" r="1.3" fill="#333333" fill-opacity="0.66"/>
<circle cx="317.61" cy="307.25" r="1.3" fill="#333333" fill-opacity="0.66"/>
<circle cx="319.83" cy="312.38" r="1.3" fill="#333333" fill-opacity="0.66"/>
<circle cx="317.53" cy="307.30" r="1.3" fill="#333333" fill-opacity="0.66"/>
<circle cx="318.60" cy="302.03" r="1.3" fill="#333333" fill-opacity="0.66"/>
<circle cx="311.46" cy="302.08" r="1.3" fill="#333333" fill-opacity="0.66"/>
<circle cx="317.05" cy="315.58" r="1.3" fill="#333333" fill-opacity="0.66"/>
<circle cx="311.87" cy="308.85" r="1.3" fill="#333333" fill-opacity="0.66"/>
<circle cx="318.70" cy="313.04" r="1.3" fill="#333333" fill-opacity="0.66"/>
<circle cx="310.94" cy="304.98" r="1.3" fill="#333333" fill-opacity="0.66"/>
<circle cx="311.63" cy="302.73" r="1.3" fill="#333333" fill-opacity="0.66"/>
<circle cx="314.23" cy="301.60" r="1.3" fill="#333333" fill-opacity="0.66"/>
<circle cx="319.57" cy="309.39" r="1.3" fill="#333333" fill-opacity="0.66"/>
<circle cx="315.32" cy="314.24" r="1.3" fill="#333333" fill-opacity="0.66"/>
<circle cx="317.98" cy="318.06" r="1.3" fill="#333333" fill-opacity="0.66"/>
<circle cx="314.01" cy="307.29" r="1.3" fill="#333333" fill-opacity="0.66"/>
<circle cx="314.29" cy="300.34" r="1.3" fill="#333333" fill-opacity="0.66"/>
<circle cx="314.17" cy="315.40" r="1.3" fill="#333333" fill-opacity="0.66"/>
<circle cx="320.21" cy="317.37" r="1.3" fill="#333333" fill-opacity="0.66"/>
<circle cx="316.87" cy="313.39" r="1.3" fill="#333333" fill-opacity="0.66"/>
<circle cx="310.19" cy="307.28" r="1.3" fill="#333333" fill-opacity="0.66"/>
<circle cx="313.56" cy="314.32" r="1.3" fill="#333333" fill-opacity="0.66"/>
<circle cx="311.11" cy="308.31" r="1.3" fill="#333333" fill-opacity="0.66"/>
<circle cx="315.30" cy="317.35" r="1.3" fill="#333333" fill-opacity="0.66"/>
<circle cx="318.58" cy="313.45" r="1.3" fill="#333333" fill-opacity="0.66"/>
<circle cx="311.65" cy="316.86" r="1.3" fill="#333333" fill-opacity="0.66"/>
<circle cx="319.39" cy="312.06" r="1.3" fill="#333333" fill-opacity="0.66"/>
<circle cx="313.67" cy="311.01" r="1.3" fill="#333333" fill-opacity="0.66"/>
<circle cx="311.47" cy="315.70" r="1.3" fill="#333333" fill-opacity="0.66"/>
<circle cx="320.26" cy="311.35" r="1.3" fill="#333333" fill-opacity="0.66"/>
<circle cx="317.44" cy="318.38" r="1.3" fill="#333333" fill-opacity="0.66"/>
<circle cx="312.05" cy="320.79" r="1.3" fill="#333333" fill-opacity="0.66"/>
<circle cx="316.52" cy="304.35" r="1.3" fill="#333333" fill-opacity="0.66"/>
<circle cx="310.87" cy="305.38" r="1.3" fill="#333333" fill-opacity="0.66"/>
<circle cx="316.00" cy="315.34" r="1.3" fill="#333333" fill-opacity="0.66"/>
<circle cx="313.42" cy="320.44" r="1.3" fill="#333333" fill-opacity="0.66"/>
<circle cx="313.76" cy="310.19" r="1.3" fill="#333333" fill-opacity="0.66"/>
<circle cx="311.29" cy="321.42" r="1.3" fill="#333333" fill-opacity="0.66"/>
<circle cx="311.41" cy="319.89" r="1.3" fill="#333333" fill-opacity="0.66"/>
<circle cx="315.65" cy="312.34" r="1.3" fill="#333333" fill-opacity="0.66"/>
<circle cx="315.83" cy="305.82" r="1.3" fill="#333333" fill-opacity="0.66"/>
<circle cx="319.46" cy="321.83" r="1.3" fill="#333333" fill-opacity="0.66"/>
<circle cx="318.50" cy="313.23" r="1.3" fill="#333333" fill-opacity="0.66"/>
<circle cx="311.28" cy="318.14" r="1.3" fill="#333333" fill-opacity="0.66"/>
<circle cx="313.00" cy="319.73" r="1.3" fill="#333333" fill-opacity="0.66"/>
<circle cx="312.61" cy="327.74" r="1.3" fill="#333333" fill-opacity="0.66"/>
<circle cx="318.51" cy="323.86" r="1.3" fill="#333333" fill-opacity="0.66"/>
<circle cx="315.68" cy="322.76" r="1.3" fill="#333333" fill-opacity="0.66"/>
<circle cx="310.52" cy="323.80" r="1.3" fill="#333333" fill-opacity="0.66"/>
<circle cx="320.07" cy="331.39" r="1.3" fill="#333333" fill-opacity="0.66"/>
<circle cx="316.78" cy="325.08" r="1.3" fill="#333333" fill-opacity="0.66"/>
<circle cx="316.91" cy="329.38" r="1.3" fill="#333333" fill-opacity="0.66"/>
<circle cx="314.02" cy="327.92" r="1.3" fill="#333333" fill-opacity="0.66"/>
<circle cx="318.24" cy="322.16" r="1.3" fill="#333333" fill-opacity="0.66"/>
<circle cx="312.20" cy="326.68" r="1.3" fill="#333333" fill-opacity="0.66"/>
<circle cx="311.63" cy="325.86" r="1.3" fill="#333333" fill-opacity="0.66"/>
<circle cx="315.90" cy="323.74" r="1.3" fill="#333333" fill-opacity="0.66"/>
<circle cx="315.40" cy="324.64" r="1.3" fill="#333333" fill-opacity="0.66"/>
<circle cx="315.88" cy="325.32" r="1.3" fill="#333333" fill-opacity="0.66"/>
<circle cx="316.62" cy="322.38" r="1.3" fill="#333333" fill-opacity="0.66"/>
<circle cx="316.91" cy="323.45" r="1.3" fill="#333333" fill-opacity="0.66"/>
<circle cx="319.79" cy="328.00" r="1.3" fill="#333333" fill-opacity="0.66"/>
<circle cx="314.90" cy="326.11" r="1.3" fill="#333333" fill-opacity="0.66"/>
<circle cx="316.44" cy="328.89" r="1.3" fill="#333333" fill-opacity="0.66"/>
<circle cx="317.78" cy="329.52" r="1.3" fill="#333333" fill-opacity="0.66"/>
<circle cx="315.09" cy="339.96" r="1.3" fill="#333333" fill-opacity="0.66"/>
<circle cx="317.91" cy="338.84" r="1.3" fill="#333333" fill-opacity="0.66"/>
<circle cx="314.47" cy="335.47" r="1.3" fill="#333333" fill-opacity="0.66"/>
<circle cx="315.73" cy="339.24" r="1.3" fill="#333333" fill-opacity="0.66"/>
<circle cx="315.41" cy="336.20" r="1.3" fill="#333333" fill-opacity="0.66"/>
<circle cx="314.66" cy="339.23" r="1.3" fill="#333333" fill-opacity="0.66"/>
<circle cx="310.70" cy="340.00" r="1.3" fill="#333333" fill-opacity="0.66"/>
<circle cx="311.00" cy="278.00" r="1.3" fill="#333333" fill-opacity="0.66"/>
<circle cx="318.80" cy="270.50" r="1.3" fill="#333333" fill-opacity="0.66"/>
<circle cx="304.80" cy="272.00" r="1.3" fill="#333333" fill-opacity="0.66"/>
<circle cx="327.71" cy="266.20" r="1.3" fill="#333333" fill-opacity="0.66"/>
<circle cx="331.76" cy="284.80" r="1.3" fill="#333333" fill-opacity="0.66"/>
<circle cx="331.82" cy="278.15" r="1.3" fill="#333333" fill-opacity="0.66"/>
<circle cx="332.02" cy="271.70" r="1.3" fill="#333333" fill-opacity="0.66"/>
<circle cx="330.43" cy="266.54" r="1.3" fill="#333333" fill-opacity="0.66"/>
<circle cx="325.74" cy="274.83" r="1.3" fill="#333333" fill-opacity="0.66"/>
<circle cx="329.53" cy="273.73" r="1.3" fill="#333333" fill-opacity="0.66"/>
<circle cx="325.02" cy="280.29" r="1.3" fill="#333333" fill-opacity="0.66"/>
<circle cx="329.76" cy="270.26" r="1.3" fill="#333333" fill-opacity="0.66"/>
<circle cx="327.56" cy="273.70" r="1.3" fill="#333333" fill-opacity="0.66"/>
<circle cx="326.86" cy="266.51" r="1.3" fill="#333333" fill-opacity="0.66"/>
<circle cx="333.61" cy="305.36" r="1.3" fill="#333333" fill-opacity="0.66"/>
<circle cx="331.16" cy="303.46" r="1.3" fill="#333333" fill-opacity="0.66"/>
<circle cx="328.71" cy="302.30" r="1.3" fill="#333333" fill-opacity="0.66"/>
<circle cx="326.72" cy="301.19" r="1.3" fill="#333333" fill-opacity="0.66"/>
<circle cx="330.17" cy="304.16" r="1.3" fill="#333333" fill-opacity="0.66"/>
<circle cx="325.49" cy="302.05" r="1.3" fill="#333333" fill-opacity="0.66"/>
<circle cx="325.74" cy="297.21" r="1.3" fill="#333333" fill-opacity="0.66"/>
<circle cx="334.01" cy="287.01" r="1.3" fill="#333333" fill-opacity="0.66"/>
<circle cx="326.94" cy="292.69" r="1.3" fill="#333333" fill-opacity="0.66"/>
<circle cx="327.75" cy="288.19" r="1.3" fill="#333333" fill-opacity="0.66"/>
<circle cx="333.45" cy="302.49" r="1.3" fill="#333333" fill-opacity="0.66"/>
<circle cx="328.47" cy="293.77" r="1.3" fill="#333333" fill-opacity="0.66"/>
<circle cx="330.36" cy="287.87" r="1.3" fill="#333333" fill-opacity="0.66"/>
<circle cx="324.81" cy="304.07" r="1.3" fill="#333333" fill-opacity="0.66"/>
<circle cx="327.58" cy="311.98" r="1.3" fill="#333333" fill-opacity="0.66"/>
<circle cx="333.84" cy="317.73" r="1.3" fill="#333333" fill-opacity="0.66"/>
<circle cx="329.23" cy="308.48" r="1.3" fill="#333333" fill-opacity="0.66"/>
<circle cx="327.45" cy="317.07" r="1.3" fill="#333333" fill-opacity="0.66"/>
<circle cx="333.47" cy="308.35" r="1.3" fill="#333333" fill-opacity="0.66"/>
<circle cx="332.88" cy="310.25" r="1.3" fill="#333333" fill-opacity="0.66"/>
<circle cx="329.22" cy="308.06" r="1.3" fill="#333333" fill-opacity="0.66"/>
<circle cx="333.30" cy="317.94" r="1.3" fill="#333333" fill-opacity="0.66"/>
<circle cx="326.52" cy="313.59" r="1.3" fill="#333333" fill-opacity="0.66"/>
<circle cx="326.42" cy="316.56" r="1.3" fill="#333333" fill-opacity="0.66"/>
<circle cx="325.00" cy="307.27" r="1.3" fill="#333333" fill-opacity="0.66"/>
<circle cx="331.76" cy="309.76" r="1.3" fill="#333333" fill-opacity="0.66"/>
<circle cx="333.50" cy="326.70" r="1.3" fill="#333333" fill-opacity="0.66"/>
<circle cx="331.63" cy="319.35" r="1.3" fill="#333333" fill-opacity="0.66"/>
<circle cx="331.46" cy="327.38" r="1.3" fill="#333333" fill-opacity="0.66"/>
<circle cx="328.95" cy="318.79" r="1.3" fill="#333333" fill-opacity="0.66"/>
<circle cx="326.73" cy="321.07" r="1.3" fill="#333333" fill-opacity="0.66"/>
<circle cx="331.61" cy="319.96" r="1.3" fill="#333333" fill-opacity="0.66"/>
<circle cx="326.31" cy="320.35" r="1.3" fill="#333333" fill-opacity="0.66"/>
<circle cx="331.15" cy="325.90" r="1.3" fill="#333333" fill-opacity="0.66"/>
<line x1="309.70" y1="310.60" x2="320.70" y2="310.60" stroke="#111" stroke-width="0.9"/>
<line x1="324.00" y1="306.00" x2="335.00" y2="306.00" stroke="#111" stroke-width="0.9"/>
<line x1="307.30" y1="263.00" x2="307.30" y2="343.40" stroke="#222" stroke-width="0.8"/>
<line x1="306.90" y1="343.40" x2="337.70" y2="343.40" stroke="#222" stroke-width="0.8"/>
<line x1="305.70" y1="328.40" x2="307.30" y2="328.40" stroke="#222" stroke-width="0.5"/>
<text transform="translate(304.80 328.40) rotate(0)" x="0" y="2.16" font-size="6.0" text-anchor="end" fill="#4d4d4d" color="#4d4d4d" font-weight="normal">3.0</text>
<line x1="305.70" y1="306.00" x2="307.30" y2="306.00" stroke="#222" stroke-width="0.5"/>
<text transform="translate(304.80 306.00) rotate(0)" x="0" y="2.16" font-size="6.0" text-anchor="end" fill="#4d4d4d" color="#4d4d4d" font-weight="normal">6.0</text>
<line x1="305.70" y1="284.00" x2="307.30" y2="284.00" stroke="#222" stroke-width="0.5"/>
<text transform="translate(304.80 284.00) rotate(0)" x="0" y="2.16" font-size="6.0" text-anchor="end" fill="#4d4d4d" color="#4d4d4d" font-weight="normal">9.0</text>
<text transform="translate(322.85 254.20) rotate(0)" x="0" y="1.50" font-size="4.8" text-anchor="middle" fill="#1a1a1a" color="#1a1a1a" font-weight="normal">adj p &lt; 0.001</text>
<text transform="translate(291.50 303.00) rotate(-90)" x="0" y="2.27" font-size="6.3" text-anchor="middle" fill="#1a1a1a" color="#1a1a1a" font-weight="normal">IL1A</text>
<line x1="315.20" y1="343.40" x2="315.20" y2="345.00" stroke="#222" stroke-width="0.5"/>
<text transform="translate(315.90 357.60) rotate(-45)" x="0" y="2.00" font-size="6.0" text-anchor="middle" fill="#333" color="#333" font-weight="normal">ACPA neg</text>
<line x1="329.50" y1="343.40" x2="329.50" y2="345.00" stroke="#222" stroke-width="0.5"/>
<text transform="translate(330.20 357.60) rotate(-45)" x="0" y="2.00" font-size="6.0" text-anchor="middle" fill="#333" color="#333" font-weight="normal">ACPA pos</text>
</svg></body></html>
